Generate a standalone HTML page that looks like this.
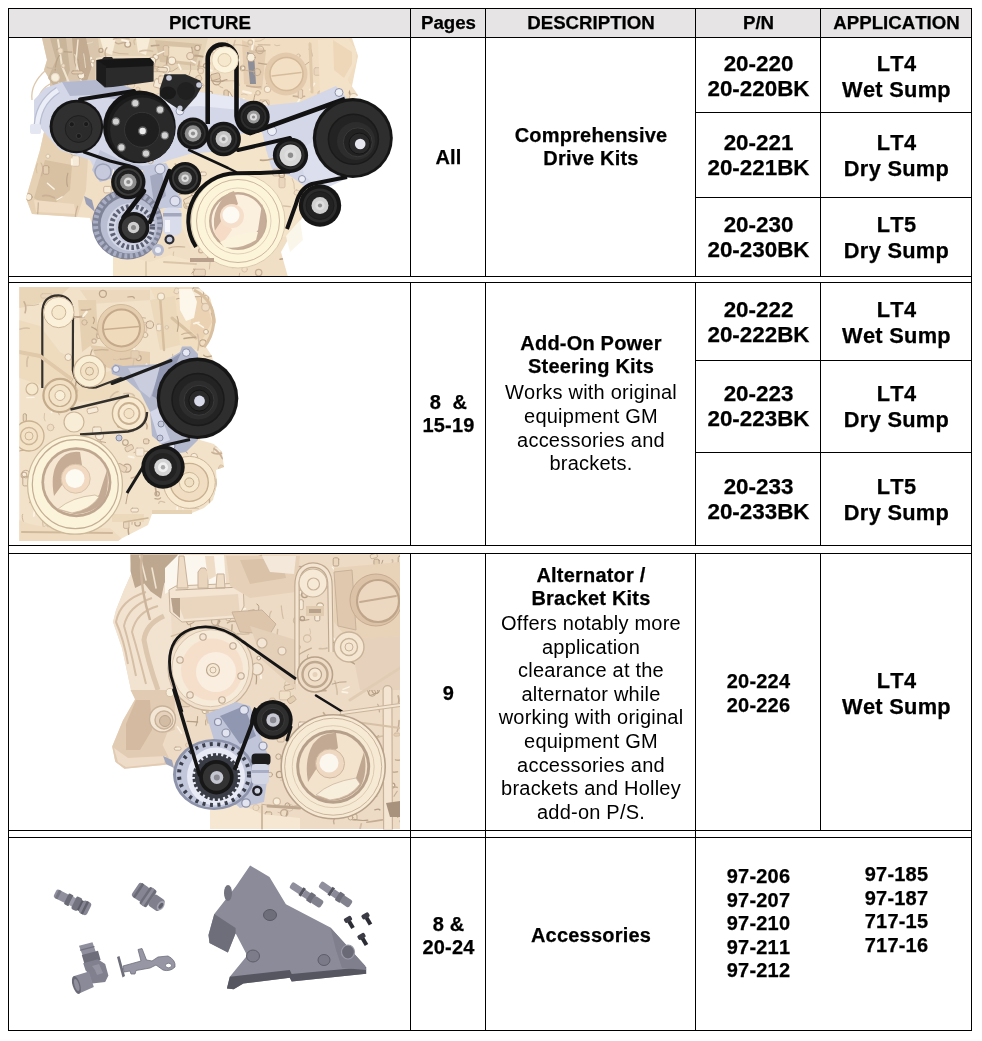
<!DOCTYPE html>
<html><head><meta charset="utf-8">
<style>
html,body{margin:0;padding:0;background:#fff;}
body{font-kerning:none;width:982px;height:1041px;position:relative;overflow:hidden;font-family:"Liberation Sans",sans-serif;color:#000;}
.l{position:absolute;background:#000;}
.h{height:1px;left:8px;width:964px;}
.v{width:1px;}
.hd{position:absolute;top:9px;height:28px;background:#e6e4e5;}
.t{position:absolute;text-align:center;white-space:nowrap;will-change:transform;}
.th,.b2,.pn,.ap{-webkit-text-stroke:0.25px #000;}
.th{font-weight:bold;font-size:18.67px;line-height:22px;top:12px;}
.b2{font-weight:bold;font-size:20px;line-height:23px;letter-spacing:0.2px;}
.pn{font-weight:bold;font-size:22.4px;line-height:25px;}
.ap{font-weight:bold;font-size:21.8px;line-height:25.8px;letter-spacing:0.3px;}
.ds{font-size:20px;line-height:23.6px;letter-spacing:0.22px;}
svg{position:absolute;left:0;top:0;}
</style></head><body>
<!-- header bg -->
<div class="hd" style="left:9px;width:962px"></div>
<!-- images -->
<svg id="art" width="982" height="1041" viewBox="0 0 982 1041">
<defs>
<clipPath id="c1"><rect x="9" y="38" width="401" height="238"/></clipPath>
<clipPath id="c2"><rect x="19.3" y="286.8" width="390" height="254.6"/></clipPath>
<clipPath id="c3"><rect x="9" y="554" width="391" height="275.5"/></clipPath>
<clipPath id="s1"><polygon points="42,38 47,60 44,70 50,80 50,96 40,112 44,132 40,150 26,198 32,214 77,217 90,218 98,242 113,252 113,277 288,277 281,252 290,236 302,218 320,190 345,178 352,100 358,95 347.5,80 356,62 356,50 348,38"/></clipPath>
<clipPath id="s2"><polygon points="19,287 198,287 210,298 216,321 206,347 212,356 214,366 200,380 200,440 214,444 222,452 224,467 216,470 217,484 213,500 204,508 192,513 152,514 148,525 121.5,538.6 118,541 19,541"/></clipPath>
<clipPath id="s3"><polygon points="130,554 400,554 400,829 210,829 210,810 196,806 172,766 165.7,764.8 124.4,768.7 115.3,761.8 112.2,746.5 122.9,720.5 135.1,699.2 131,690 122,648 113,622 116,610 124,590 132,572"/></clipPath>
</defs>
<g clip-path="url(#c1)">
<polygon points="42,38 47,60 44,70 50,80 50,96 40,112 44,132 40,150 26,198 32,214 77,217 90,218 98,242 113,252 113,277 288,277 281,252 290,236 302,218 320,190 345,178 352,100 358,95 347.5,80 356,62 356,50 348,38" fill="#f0dfc5"/>
<polygon points="42,38 47,60 44,70 50,80 50,98 60,100 95,98 96,58 120,52 135,38" fill="#d9c6ac"/>
<path d="M46,70 Q30,84 32,100 M50,84 Q36,92 38,108 M52,92 Q42,98 44,112" fill="none" stroke="#dcc8ac" stroke-width="1.3"/>
<polygon points="50,38 56,60 48,78 60,95 70,70 66,38" fill="#c9b59a"/>
<polygon points="72,38 74,62 84,90 92,66 86,38" fill="#c2ab90"/>
<polyline points="58,40 62,66 72,90" fill="none" stroke="#f1e4d0" stroke-width="2" stroke-linecap="round" stroke-linejoin="round"/>
<polyline points="78,40 76,62 82,84" fill="none" stroke="#f3e6d4" stroke-width="1.5" stroke-linecap="round" stroke-linejoin="round"/>
<polygon points="98,38 100,56 150,56 160,70 200,70 208,38" fill="#e6d4b8"/>
<polygon points="100,38 104,52 112,55 116,38" fill="#f7ecd8"/>
<polygon points="136,38 138,52 146,55 150,38" fill="#f7ecd8"/>
<polygon points="155,40 160,62 195,66 202,44" fill="#d8c2a6"/>
<polygon points="165,46 170,60 190,62 194,48" fill="#efe0c6"/>
<polygon points="44,132 40,150 26,198 32,214 77,217 86,190 88,158 70,150 56,140" fill="#e6d1b4"/>
<polygon points="45,160 34,198 50,208 70,190 72,165" fill="#d8c0a2"/>
<polygon points="34,200 36,212 76,214 74,204" fill="#efdcc2"/>
<polygon points="240,38 238,100 345,100 352,86 358,56 352,38" fill="#f0ddc2"/>
<polygon points="242,40 244,84 262,90 266,50" fill="#e4cdb0"/>
<polygon points="247,52 250,84 256,84 254,54" fill="#8e8e98"/>
<g clip-path="url(#s1)" fill="none" stroke-linecap="round" stroke-linejoin="round">
<path d="M213.6,74.9 l-6,3" stroke="#fbf3e4" stroke-width="1.4"/>
<path d="M255.6,50.3 Q260,51.9 265,50.7" stroke="#c9b096" stroke-width="1.5"/>
<circle cx="258" cy="92.9" r="2.3" stroke="#c9b096" stroke-width="0.9" fill="none"/>
<path d="M249.6,50.9 Q256.7,53.8 257.7,50.7" stroke="#d6c0a6" stroke-width="1.6"/>
<circle cx="155.7" cy="57.1" r="2.8" stroke="#c9b096" stroke-width="1.2" fill="#f8eedc"/>
<path d="M113.4,39.1 Q120.7,36.5 129.2,38.9" stroke="#c9b096" stroke-width="1.4"/>
<circle cx="298.4" cy="55.8" r="1.8" stroke="#d6c0a6" stroke-width="1" fill="none"/>
<circle cx="131" cy="84.7" r="3.7" stroke="#d6c0a6" stroke-width="0.9" fill="#eedcc4"/>
<path d="M145,71.6 l2.3,6.1" stroke="#fbf3e4" stroke-width="1.6"/>
<rect x="353.4" y="38" width="6.4" height="8.3" rx="1.5" stroke="#bca48a" stroke-width="0.9" fill="#f6ead8" transform="rotate(0 353.4 38)"/>
<path d="M106.9,47.7 Q103.8,50.5 105.7,56.8" stroke="#c9b096" stroke-width="1.4"/>
<path d="M100,62.3 Q98.9,66.3 99.1,68.8" stroke="#c9b096" stroke-width="1.1"/>
<rect x="155.4" y="78.3" width="9.9" height="8.6" rx="1.5" stroke="#c9b096" stroke-width="0.9" fill="#f6ead8" transform="rotate(15 155.4 78.3)"/>
<path d="M325.4,77.8 Q329.9,78.3 331.9,81.7" stroke="#c9b096" stroke-width="1.6"/>
<circle cx="251.1" cy="57.4" r="4.1" stroke="#bca48a" stroke-width="0.9" fill="#f8eedc"/>
<path d="M241.4,94.3 Q243.8,93.1 247.2,94.9" stroke="#d6c0a6" stroke-width="0.8"/>
<path d="M169.3,73 l-5.8,2.1" stroke="#fbf3e4" stroke-width="2.2"/>
<path d="M266.8,83.6 Q270.1,80.8 275.7,83.5" stroke="#c9b096" stroke-width="1.4"/>
<path d="M115.5,42.4 Q117.2,45 124.5,42.3" stroke="#c9b096" stroke-width="1.5"/>
<path d="M129.7,101.6 Q136.2,104.5 139.2,103.1" stroke="#c9b096" stroke-width="1.4"/>
<path d="M258.5,63.2 Q268.7,65.1 274.4,64.2" stroke="#bca48a" stroke-width="1.2"/>
<circle cx="210.5" cy="93.3" r="1.9" stroke="#bca48a" stroke-width="1.1" fill="#f8eedc"/>
<circle cx="101.8" cy="101.2" r="3.4" stroke="#bca48a" stroke-width="1" fill="none"/>
<path d="M191.7,47.5 Q193.7,51.3 191,57.3" stroke="#bca48a" stroke-width="1.5"/>
<rect x="147.6" y="66.4" width="11" height="5.3" rx="1.5" stroke="#c9b096" stroke-width="0.9" fill="#e4ceb2" transform="rotate(0 147.6 66.4)"/>
<rect x="225.1" y="93.2" width="4.5" height="8.9" rx="1.5" stroke="#bca48a" stroke-width="0.9" fill="#f6ead8" transform="rotate(-31 225.1 93.2)"/>
<path d="M167.5,52.1 Q167.6,58.2 166.3,66.3" stroke="#bca48a" stroke-width="1.6"/>
<path d="M168.3,78.1 Q168.8,83.1 167.6,89.3" stroke="#d6c0a6" stroke-width="1"/>
<rect x="296" y="55.6" width="11.9" height="3.7" rx="1.5" stroke="#c9b096" stroke-width="0.9" fill="#ead6bc" transform="rotate(90 296 55.6)"/>
<circle cx="345.2" cy="83.2" r="2.4" stroke="#d6c0a6" stroke-width="1.2" fill="#f8eedc"/>
<path d="M235.1,40.4 Q232,50.4 233.1,56.2" stroke="#d6c0a6" stroke-width="1.5"/>
<rect x="154.2" y="65.1" width="5" height="5.7" rx="1.5" stroke="#d6c0a6" stroke-width="0.9" fill="#ead6bc" transform="rotate(90 154.2 65.1)"/>
<circle cx="216.6" cy="81" r="3.9" stroke="#bca48a" stroke-width="1.2" fill="#eedcc4"/>
<path d="M128.1,54 Q119.1,54.3 113,52" stroke="#c9b096" stroke-width="0.8"/>
<path d="M227.2,40.5 Q228.8,43.7 225.9,47.7" stroke="#d6c0a6" stroke-width="0.8"/>
<path d="M234.6,83.3 l-0.3,4.9" stroke="#fbf3e4" stroke-width="1.9"/>
<path d="M314.4,83.5 l-4.2,6.2" stroke="#fbf3e4" stroke-width="2"/>
<rect x="210.2" y="74.9" width="9.1" height="6.1" rx="1.5" stroke="#bca48a" stroke-width="0.9" fill="#e4ceb2" transform="rotate(-15.1 210.2 74.9)"/>
<path d="M344.2,95.4 Q337.4,98.1 334.1,100.4" stroke="#d6c0a6" stroke-width="1.3"/>
<path d="M253.4,39.8 l-1.3,9.4" stroke="#fbf3e4" stroke-width="2.2"/>
<circle cx="127.7" cy="44.2" r="2.9" stroke="#bca48a" stroke-width="1.3" fill="#f8eedc"/>
<circle cx="166" cy="69.2" r="4" stroke="#d6c0a6" stroke-width="1.3" fill="#f8eedc"/>
<path d="M232.5,45.2 Q237.6,43.8 248.2,46.5" stroke="#c9b096" stroke-width="0.8"/>
<path d="M169.9,85.8 Q173.6,84.8 180.3,87.6" stroke="#d6c0a6" stroke-width="1.3"/>
<path d="M209.6,62.8 Q209,68.8 206.7,74.4" stroke="#bca48a" stroke-width="1.7"/>
<path d="M255,94.5 Q253.2,101.3 253.6,102.9" stroke="#bca48a" stroke-width="1"/>
<circle cx="355.6" cy="96.6" r="2.1" stroke="#c9b096" stroke-width="0.8" fill="#f8eedc"/>
<path d="M121.2,92.9 Q118.4,100.2 120.5,106.7" stroke="#bca48a" stroke-width="1.2"/>
<path d="M309.5,61.8 Q305.2,65.4 297.4,69.3" stroke="#bca48a" stroke-width="0.8"/>
<circle cx="331.3" cy="69.8" r="2.3" stroke="#c9b096" stroke-width="1.2" fill="#f8eedc"/>
<circle cx="337" cy="44.3" r="2.9" stroke="#bca48a" stroke-width="1.2" fill="#f8eedc"/>
<path d="M197.6,66.1 Q198.6,65.7 203.1,66.5" stroke="#c9b096" stroke-width="1.2"/>
<path d="M192.3,98.8 Q197.3,100.9 198.2,98.4" stroke="#c9b096" stroke-width="1.7"/>
<circle cx="340.3" cy="75.6" r="4.2" stroke="#bca48a" stroke-width="1.2" fill="#f8eedc"/>
<rect x="168.7" y="45.7" width="10.5" height="5.4" rx="1.5" stroke="#c9b096" stroke-width="0.9" fill="#e4ceb2" transform="rotate(90 168.7 45.7)"/>
<circle cx="201.5" cy="85.7" r="2.5" stroke="#d6c0a6" stroke-width="0.9" fill="#f8eedc"/>
<circle cx="353.6" cy="97.6" r="4.1" stroke="#d6c0a6" stroke-width="1.1" fill="#f8eedc"/>
<circle cx="152.2" cy="64.8" r="2.7" stroke="#c9b096" stroke-width="1.3" fill="#eedcc4"/>
<path d="M151.4,45.9 Q154.9,45.6 159,45.2" stroke="#bca48a" stroke-width="1.6"/>
<path d="M264.5,38.7 Q260,42.1 255.3,41.4" stroke="#d6c0a6" stroke-width="0.9"/>
<path d="M211.5,80.5 Q218.5,83 226.8,79.8" stroke="#bca48a" stroke-width="1.7"/>
<path d="M236.9,77.4 Q238.3,81.3 239.3,85.5" stroke="#d6c0a6" stroke-width="1.1"/>
<rect x="337.7" y="81.8" width="4.1" height="4.5" rx="1.5" stroke="#c9b096" stroke-width="0.9" fill="#ead6bc" transform="rotate(10.6 337.7 81.8)"/>
<circle cx="329.4" cy="87.4" r="4.1" stroke="#bca48a" stroke-width="0.8" fill="none"/>
<path d="M207.7,69.5 l4.1,1.3" stroke="#fbf3e4" stroke-width="2"/>
<path d="M332.5,47.5 l7.1,2.7" stroke="#fbf3e4" stroke-width="1.8"/>
<circle cx="214.5" cy="51.4" r="2.2" stroke="#bca48a" stroke-width="1" fill="none"/>
<path d="M164.2,76.4 Q169,75.3 177,78.9" stroke="#bca48a" stroke-width="1.7"/>
<path d="M189.4,55.9 Q194.2,54.8 202.7,56.7" stroke="#bca48a" stroke-width="1.8"/>
<circle cx="334.1" cy="96" r="1.8" stroke="#c9b096" stroke-width="0.9" fill="none"/>
<path d="M258.1,44.8 Q263.3,44.8 270,45" stroke="#c9b096" stroke-width="1"/>
<rect x="185.4" y="87.2" width="10.4" height="5.7" rx="1.5" stroke="#c9b096" stroke-width="0.9" fill="#f6ead8" transform="rotate(90 185.4 87.2)"/>
<circle cx="197.4" cy="47.9" r="2.6" stroke="#bca48a" stroke-width="1.1" fill="#eedcc4"/>
<path d="M310.8,50.1 Q311.7,53 311.8,56" stroke="#bca48a" stroke-width="1.5"/>
<circle cx="173.7" cy="89.2" r="4" stroke="#c9b096" stroke-width="1.1" fill="#eedcc4"/>
<path d="M175,85.8 Q180.7,83.2 188,85.1" stroke="#d6c0a6" stroke-width="1.5"/>
<path d="M244,98.6 l-5.4,3.8" stroke="#fbf3e4" stroke-width="1.5"/>
<path d="M178.6,64.4 l2.3,5" stroke="#fbf3e4" stroke-width="1.6"/>
<path d="M190.5,64.1 Q191.8,69.9 189.1,75" stroke="#c9b096" stroke-width="1"/>
<path d="M293.3,96.1 Q301.7,97.2 304.6,96.3" stroke="#c9b096" stroke-width="1.6"/>
<rect x="112.7" y="74.1" width="6.7" height="4.6" rx="1.5" stroke="#c9b096" stroke-width="0.9" fill="#ead6bc" transform="rotate(0 112.7 74.1)"/>
<circle cx="102.7" cy="81.1" r="2.8" stroke="#bca48a" stroke-width="1.2" fill="#f8eedc"/>
<path d="M183.8,101.9 Q190.8,104.5 198.8,103.2" stroke="#d6c0a6" stroke-width="1.5"/>
<rect x="317.9" y="91.2" width="11.7" height="6.8" rx="1.5" stroke="#d6c0a6" stroke-width="0.9" fill="#e4ceb2" transform="rotate(0 317.9 91.2)"/>
<circle cx="205.6" cy="65.8" r="2.2" stroke="#bca48a" stroke-width="1.1" fill="#eedcc4"/>
<path d="M139.6,51.5 Q144.9,49.3 152.6,51.3" stroke="#d6c0a6" stroke-width="1.7"/>
<circle cx="333.2" cy="87.7" r="4" stroke="#d6c0a6" stroke-width="0.8" fill="none"/>
<path d="M147.4,61.7 Q146.6,64.9 141.1,69.3" stroke="#bca48a" stroke-width="1.7"/>
<path d="M339.7,79.4 l4.7,5" stroke="#fbf3e4" stroke-width="2.1"/>
<path d="M333.7,60.6 Q335.2,62.2 341.1,60.3" stroke="#c9b096" stroke-width="1.8"/>
<rect x="302.6" y="89.1" width="9.3" height="4.4" rx="1.5" stroke="#c9b096" stroke-width="0.9" fill="#ead6bc" transform="rotate(90 302.6 89.1)"/>
<path d="M213,54.3 Q216,59.5 215.2,69.1" stroke="#c9b096" stroke-width="1.5"/>
<circle cx="257.1" cy="72.1" r="3.6" stroke="#bca48a" stroke-width="0.8" fill="none"/>
<path d="M309.7,43.4 Q311,46.6 309.3,49.3" stroke="#bca48a" stroke-width="1.3"/>
<circle cx="100.9" cy="50.4" r="2" stroke="#bca48a" stroke-width="1.2" fill="none"/>
<path d="M105.7,65.3 Q106.2,70.7 107.2,73.5" stroke="#d6c0a6" stroke-width="1.2"/>
<path d="M274.6,45 Q276.5,46.4 279.8,45.3" stroke="#d6c0a6" stroke-width="1"/>
<circle cx="242.7" cy="68.2" r="2.3" stroke="#bca48a" stroke-width="1.1" fill="#f8eedc"/>
<rect x="259.2" y="99.9" width="10" height="6.3" rx="1.5" stroke="#d6c0a6" stroke-width="0.9" fill="#ead6bc" transform="rotate(0 259.2 99.9)"/>
<path d="M193.9,45.2 Q191.6,50.6 194.1,54.4" stroke="#d6c0a6" stroke-width="0.9"/>
<circle cx="259.9" cy="49.8" r="3.8" stroke="#c9b096" stroke-width="1.1" fill="none"/>
<path d="M122.1,40.1 l6.3,1.5" stroke="#fbf3e4" stroke-width="2.1"/>
<path d="M207,71.8 Q207.8,80.7 207.1,86.9" stroke="#c9b096" stroke-width="1.4"/>
<path d="M178.6,90.1 Q179.8,92.1 179.2,98.8" stroke="#bca48a" stroke-width="1.2"/>
<rect x="228.4" y="90" width="9.7" height="4.5" rx="1.5" stroke="#bca48a" stroke-width="0.9" fill="#e4ceb2" transform="rotate(90 228.4 90)"/>
<path d="M255.1,71.9 Q251.4,71.2 242.5,69.8" stroke="#c9b096" stroke-width="0.8"/>
<circle cx="267.5" cy="89.3" r="3.2" stroke="#d6c0a6" stroke-width="1.1" fill="#f8eedc"/>
<path d="M119.9,95.6 Q125.7,92.4 131.1,94.4" stroke="#c9b096" stroke-width="1.7"/>
<rect x="139.8" y="87.2" width="8.8" height="3.7" rx="1.5" stroke="#d6c0a6" stroke-width="0.9" fill="#ead6bc" transform="rotate(90 139.8 87.2)"/>
<rect x="158.6" y="75.9" width="8.8" height="7.9" rx="1.5" stroke="#c9b096" stroke-width="0.9" fill="#f1e0c8" transform="rotate(0 158.6 75.9)"/>
<path d="M299.5,99.4 l-3,5" stroke="#fbf3e4" stroke-width="1.9"/>
<rect x="195.2" y="77.1" width="5.3" height="5.5" rx="1.5" stroke="#c9b096" stroke-width="0.9" fill="#ead6bc" transform="rotate(-28.6 195.2 77.1)"/>
<path d="M126.8,64.8 Q129.9,68.5 129.7,69.5" stroke="#c9b096" stroke-width="1.6"/>
<circle cx="200.8" cy="70.8" r="2.8" stroke="#d6c0a6" stroke-width="1.1" fill="#eedcc4"/>
<path d="M242.8,64.9 Q240.1,70.6 242,71.1" stroke="#d6c0a6" stroke-width="1.1"/>
<circle cx="231.4" cy="65.7" r="2.5" stroke="#c9b096" stroke-width="1.1" fill="#f8eedc"/>
<circle cx="250.3" cy="42.6" r="2.4" stroke="#d6c0a6" stroke-width="1.2" fill="none"/>
<path d="M219.7,45 l1.9,5.5" stroke="#fbf3e4" stroke-width="1.4"/>
<path d="M113.8,98.1 l-0.9,6.1" stroke="#fbf3e4" stroke-width="1.8"/>
<path d="M138.7,80.9 Q144.2,81.3 145.1,80.9" stroke="#c9b096" stroke-width="1.3"/>
<circle cx="173" cy="86.1" r="2" stroke="#c9b096" stroke-width="1.2" fill="#eedcc4"/>
<path d="M199.3,61.5 Q198.6,68.3 197.9,69.8" stroke="#c9b096" stroke-width="1.8"/>
<path d="M218.9,51.6 Q228.5,48.2 233.3,50.5" stroke="#bca48a" stroke-width="1.4"/>
<path d="M234.6,53.6 l4.5,6.5" stroke="#fbf3e4" stroke-width="2"/>
<path d="M346,56.1 Q348.2,57.2 346.2,62.9" stroke="#c9b096" stroke-width="1.5"/>
<path d="M165.9,85.5 Q162.9,91 164.6,96.2" stroke="#d6c0a6" stroke-width="1.8"/>
<path d="M328.8,49.9 Q334.2,47.3 334.7,49.8" stroke="#c9b096" stroke-width="1.7"/>
<path d="M97.8,76.7 Q103.8,73.7 113.5,74.5" stroke="#d6c0a6" stroke-width="1.5"/>
<circle cx="103.5" cy="90.2" r="3.3" stroke="#c9b096" stroke-width="1.3" fill="#eedcc4"/>
<path d="M196,99.3 Q193.6,103.2 196.8,109.6" stroke="#c9b096" stroke-width="1.6"/>
<rect x="261" y="102.9" width="5.4" height="7.7" rx="1.5" stroke="#bca48a" stroke-width="0.9" fill="#f6ead8" transform="rotate(-31 261 102.9)"/>
<rect x="157.2" y="67.1" width="10.3" height="4.4" rx="1.5" stroke="#bca48a" stroke-width="0.9" fill="#f1e0c8" transform="rotate(3.5 157.2 67.1)"/>
<path d="M163.9,51.4 l-6.9,2.9" stroke="#fbf3e4" stroke-width="1.4"/>
<path d="M135.5,39.2 Q132.8,39.9 134.7,44.5" stroke="#d6c0a6" stroke-width="1.4"/>
<path d="M246.7,85.7 Q255.1,87.9 260.6,86.8" stroke="#c9b096" stroke-width="1.6"/>
<path d="M225.6,80.9 Q232.3,80.6 237.8,80.9" stroke="#d6c0a6" stroke-width="1.1"/>
<path d="M217.4,84.1 Q219.8,87.5 222.8,87.9" stroke="#c9b096" stroke-width="0.8"/>
<circle cx="158.6" cy="96.7" r="3.1" stroke="#d6c0a6" stroke-width="1" fill="none"/>
<path d="M348.6,82.9 Q347.6,88.1 349.8,93.9" stroke="#bca48a" stroke-width="1.7"/>
<path d="M190.6,60.2 l4.6,2.6" stroke="#fbf3e4" stroke-width="1.8"/>
<path d="M354.6,86.7 Q361.4,85.9 364,86.5" stroke="#bca48a" stroke-width="1.6"/>
<circle cx="152" cy="60.9" r="3.7" stroke="#bca48a" stroke-width="1" fill="#f8eedc"/>
<path d="M151.8,68.9 Q154.6,66.9 158.9,70" stroke="#d6c0a6" stroke-width="1.5"/>
<circle cx="190.3" cy="56.1" r="3.6" stroke="#c9b096" stroke-width="1.1" fill="#eedcc4"/>
<path d="M336.1,85.2 Q338.7,86.7 337.3,92.8" stroke="#d6c0a6" stroke-width="1.8"/>
<rect x="314.1" y="67.7" width="6.6" height="7.6" rx="1.5" stroke="#d6c0a6" stroke-width="0.9" fill="#ead6bc" transform="rotate(0 314.1 67.7)"/>
<path d="M223,50.4 Q224.3,55.6 223.4,60.6" stroke="#c9b096" stroke-width="1.3"/>
<path d="M177.6,67.8 Q172.6,72 169,71.8" stroke="#c9b096" stroke-width="1"/>
<circle cx="171.9" cy="60.8" r="3.8" stroke="#c9b096" stroke-width="1.2" fill="#f8eedc"/>
<path d="M243.1,91.4 l7.8,1.7" stroke="#fbf3e4" stroke-width="2.1"/>
</g>
<circle cx="286" cy="74" r="21.5" fill="#e3caac"/>
<circle cx="286.5" cy="74" r="16.5" fill="#f3dfc4" stroke="#d4b999" stroke-width="1.5"/>
<polyline points="272,76 301,72.5" fill="none" stroke="#d6bc9c" stroke-width="1.5" stroke-linecap="round" stroke-linejoin="round"/>
<polygon points="318,40 320,96 345,98 352,86 347.5,80 356,62 356,50 348,38" fill="#f4e2c8"/>
<polygon points="333,40 352,52 352,64 344,78 334,70" fill="#eed7b8"/>
<polyline points="310,44 312,92" fill="none" stroke="#e0c8aa" stroke-width="3" stroke-linecap="round" stroke-linejoin="round"/>
<g clip-path="url(#s1)" fill="none" stroke-linecap="round" stroke-linejoin="round">
<path d="M63.2,85.3 Q63,93.6 63.3,97.4" stroke="#b9a288" stroke-width="1"/>
<path d="M30.1,82.9 l-4.8,1.4" stroke="#fbf3e4" stroke-width="1.3"/>
<path d="M87.3,43.4 Q92.6,42.9 92.9,42.2" stroke="#e9dcc8" stroke-width="0.9"/>
<circle cx="99.1" cy="106.2" r="4.1" stroke="#e9dcc8" stroke-width="1.1" fill="#eedcc4"/>
<rect x="69.1" y="108.3" width="5.4" height="7.9" rx="1.5" stroke="#cdb89e" stroke-width="0.9" fill="#f1e0c8" transform="rotate(8.6 69.1 108.3)"/>
<circle cx="63.4" cy="65.7" r="2" stroke="#cdb89e" stroke-width="0.9" fill="#eedcc4"/>
<rect x="48.3" y="105.8" width="9.4" height="3.7" rx="1.5" stroke="#e9dcc8" stroke-width="0.9" fill="#f6ead8" transform="rotate(90 48.3 105.8)"/>
<path d="M65.8,96.3 Q67.4,96.2 66.8,101.5" stroke="#b9a288" stroke-width="1"/>
<path d="M72.5,92.2 Q78.4,93.4 83,91.9" stroke="#b9a288" stroke-width="1.3"/>
<path d="M55.8,62.5 Q56.4,70.6 57.5,78.2" stroke="#cdb89e" stroke-width="1"/>
<path d="M83.7,53.8 Q84.6,59.1 85.5,67.5" stroke="#e9dcc8" stroke-width="0.9"/>
<circle cx="55.3" cy="77.4" r="3.9" stroke="#e9dcc8" stroke-width="1.1" fill="#f8eedc"/>
<path d="M74.8,54.5 Q77.9,60.2 76.3,69.9" stroke="#e9dcc8" stroke-width="1.1"/>
<path d="M91.1,58 l1.3,7.7" stroke="#fbf3e4" stroke-width="2"/>
<circle cx="81.4" cy="75.5" r="3.5" stroke="#b9a288" stroke-width="0.9" fill="#f8eedc"/>
<path d="M59.4,55.4 Q55.9,60 55.2,70.1" stroke="#b9a288" stroke-width="1.2"/>
<circle cx="36.5" cy="67.1" r="2.6" stroke="#cdb89e" stroke-width="1" fill="#eedcc4"/>
<path d="M57,49.6 Q64.6,52.6 71.8,52.1" stroke="#b9a288" stroke-width="1.2"/>
<path d="M36.9,63.4 Q36.9,67.8 36.6,69.8" stroke="#cdb89e" stroke-width="1.2"/>
<path d="M47.2,67.3 Q49.5,68.8 55.6,68.1" stroke="#cdb89e" stroke-width="1.4"/>
<circle cx="60.5" cy="50.7" r="2.9" stroke="#cdb89e" stroke-width="0.9" fill="#eedcc4"/>
<rect x="71.6" y="70.9" width="11.6" height="3" rx="1.5" stroke="#b9a288" stroke-width="0.9" fill="#e4ceb2" transform="rotate(0 71.6 70.9)"/>
<path d="M78.2,59.3 Q79.5,66.4 79.6,69.3" stroke="#b9a288" stroke-width="1"/>
<rect x="62.2" y="99.5" width="7.3" height="7.2" rx="1.5" stroke="#b9a288" stroke-width="0.9" fill="#f1e0c8" transform="rotate(1.7 62.2 99.5)"/>
<path d="M76.4,108 Q80.8,106.5 86.9,107.2" stroke="#cdb89e" stroke-width="0.9"/>
<path d="M45.8,77.2 Q47.1,84.1 47.2,92.4" stroke="#b9a288" stroke-width="1.7"/>
<circle cx="92.8" cy="61.1" r="1.9" stroke="#cdb89e" stroke-width="1.1" fill="#f8eedc"/>
<path d="M58.9,82.5 Q60.9,85.2 59.3,91.9" stroke="#e9dcc8" stroke-width="1"/>
<path d="M47.8,107.9 Q47.9,117.4 44.8,122.7" stroke="#b9a288" stroke-width="1.1"/>
<rect x="91.1" y="91.9" width="6.5" height="3.1" rx="1.5" stroke="#cdb89e" stroke-width="0.9" fill="#f6ead8" transform="rotate(0 91.1 91.9)"/>
</g>
<g clip-path="url(#s1)" fill="none" stroke-linecap="round" stroke-linejoin="round">
<path d="M42.6,195.9 Q46.7,194.3 54.5,197.8" stroke="#c9b096" stroke-width="1.6"/>
<circle cx="73.7" cy="152" r="3.3" stroke="#bca48a" stroke-width="0.8" fill="#f8eedc"/>
<rect x="79.4" y="155.7" width="10.6" height="7.5" rx="1.5" stroke="#d6c0a6" stroke-width="0.9" fill="#f6ead8" transform="rotate(90 79.4 155.7)"/>
<rect x="48.8" y="165.7" width="8.5" height="5.6" rx="1.5" stroke="#bca48a" stroke-width="0.9" fill="#e4ceb2" transform="rotate(90 48.8 165.7)"/>
<path d="M67.9,173.2 Q65.6,180.9 67.6,186.4" stroke="#bca48a" stroke-width="1.2"/>
<path d="M37.3,163.6 Q34.9,168.2 36.9,172.9" stroke="#d6c0a6" stroke-width="1"/>
<path d="M41.1,163 Q44,166.7 41.7,175.9" stroke="#c9b096" stroke-width="0.9"/>
<path d="M77.6,206.2 Q74.7,215.1 75.4,219.8" stroke="#c9b096" stroke-width="1.2"/>
<path d="M71.9,159.2 l0.1,5.4" stroke="#fbf3e4" stroke-width="2.1"/>
<circle cx="28.7" cy="197" r="3.5" stroke="#bca48a" stroke-width="1" fill="#f8eedc"/>
<path d="M38.3,202.8 Q38.3,205.5 37.7,213.9" stroke="#c9b096" stroke-width="1.2"/>
<circle cx="48" cy="156.2" r="2.1" stroke="#d6c0a6" stroke-width="1" fill="#f8eedc"/>
<path d="M62.2,196.8 l-5.4,3.1" stroke="#fbf3e4" stroke-width="1.2"/>
<path d="M47.4,183.3 l6.8,5.8" stroke="#fbf3e4" stroke-width="1.4"/>
</g>
<polygon points="44,132 34,120 34,100 45,88 62,82 95,80 120,84 150,96 200,92 240,98 262,106 300,102 336,86 345,96 352,110 345,178 322,190 304,186 290,176 272,170 266,150 262,132 240,134 212,152 190,154 170,160 150,168 120,172 100,180 90,160 60,150" fill="#d3d7e8"/>
<polygon points="62,82 95,80 120,84 150,96 120,100 90,95 70,96" fill="#b4b9cf"/>
<polygon points="150,96 200,92 240,98 240,110 200,106 160,108" fill="#e6e8f3"/>
<polygon points="100,150 120,160 150,168 120,176 100,182 92,170" fill="#c0c5da"/>
<path d="M37,132 Q36,104 58,90" fill="none" stroke="#b9bdd2" stroke-width="7"/>
<path d="M37,132 Q36,104 58,90" fill="none" stroke="#eceef7" stroke-width="4.5"/>
<rect x="30" y="124" width="11" height="10" rx="2" fill="#e4e6f1"/>
<circle cx="103" cy="172" r="8" fill="#c6cadc" stroke="#9da2b9" stroke-width="1.5"/>
<polygon points="300,150 345,120 348,178 322,190 304,176" fill="#dcdfee"/>
<circle cx="302" cy="179" r="3.5" fill="#eceef6" stroke="#8e93aa" stroke-width="1"/>
<circle cx="272" cy="131" r="4.5" fill="#eceef6" stroke="#9aa0b8" stroke-width="1"/>
<circle cx="339" cy="92.5" r="4" fill="#eceef6" stroke="#8e93aa" stroke-width="1"/>
<circle cx="180" cy="111" r="4" fill="#eceef6" stroke="#9aa0b8" stroke-width="1"/>
<polygon points="150,168 170,160 190,154 212,152 240,134 262,132 266,150 272,170 290,176 304,186 310,200 290,236 192,250 170,200" fill="#f4e4ca"/>
<g clip-path="url(#s1)" fill="none" stroke-linecap="round" stroke-linejoin="round">
<path d="M113.5,242.2 Q113.5,244.9 114,248" stroke="#c9b096" stroke-width="1.7"/>
<path d="M176.6,266.3 Q177.1,270.3 177.3,278.3" stroke="#d6c0a6" stroke-width="1.5"/>
<circle cx="150.6" cy="161.2" r="2.6" stroke="#bca48a" stroke-width="0.8" fill="none"/>
<path d="M277.9,204.7 Q281.8,206.2 290.3,206.6" stroke="#d6c0a6" stroke-width="1.4"/>
<rect x="129.9" y="171.1" width="9.4" height="4.6" rx="1.5" stroke="#bca48a" stroke-width="0.9" fill="#f6ead8" transform="rotate(90 129.9 171.1)"/>
<rect x="200.1" y="172" width="6.2" height="3.7" rx="1.5" stroke="#c9b096" stroke-width="0.9" fill="#f6ead8" transform="rotate(0 200.1 172)"/>
<path d="M241,228.6 Q240.7,234.3 241.2,238.9" stroke="#bca48a" stroke-width="0.9"/>
<rect x="194.4" y="187.6" width="4.5" height="3.9" rx="1.5" stroke="#d6c0a6" stroke-width="0.9" fill="#e4ceb2" transform="rotate(0 194.4 187.6)"/>
<path d="M271.6,207.5 l-1.3,5.9" stroke="#fbf3e4" stroke-width="2.1"/>
<circle cx="148" cy="195.4" r="3.1" stroke="#bca48a" stroke-width="1.2" fill="none"/>
<path d="M175.3,164.1 Q178.2,168.7 175.2,177.9" stroke="#c9b096" stroke-width="1.8"/>
<path d="M260.5,160.2 Q265.7,160.8 272.9,158.7" stroke="#bca48a" stroke-width="1.7"/>
<rect x="96.9" y="267.8" width="8.1" height="8" rx="1.5" stroke="#c9b096" stroke-width="0.9" fill="#e4ceb2" transform="rotate(0 96.9 267.8)"/>
<rect x="301.2" y="223.9" width="7.9" height="8.7" rx="1.5" stroke="#d6c0a6" stroke-width="0.9" fill="#ead6bc" transform="rotate(-20.2 301.2 223.9)"/>
<path d="M193.2,199.7 Q195,199.7 199.7,200.2" stroke="#c9b096" stroke-width="1.3"/>
<path d="M173.7,251.9 Q172.2,256.9 174.9,259.2" stroke="#d6c0a6" stroke-width="0.9"/>
<path d="M237,186 Q229.4,188.1 227.2,191.3" stroke="#bca48a" stroke-width="1.1"/>
<rect x="193.4" y="269.2" width="12" height="6.8" rx="1.5" stroke="#c9b096" stroke-width="0.9" fill="#ead6bc" transform="rotate(0 193.4 269.2)"/>
<rect x="183.8" y="274.7" width="11.4" height="3.4" rx="1.5" stroke="#bca48a" stroke-width="0.9" fill="#e4ceb2" transform="rotate(-36.4 183.8 274.7)"/>
<rect x="285" y="177.5" width="10.3" height="6" rx="1.5" stroke="#d6c0a6" stroke-width="0.9" fill="#ead6bc" transform="rotate(90 285 177.5)"/>
<path d="M144.6,239.7 Q146.3,237.6 149.7,240.2" stroke="#c9b096" stroke-width="0.9"/>
<rect x="174.2" y="194.3" width="4.2" height="3.8" rx="1.5" stroke="#d6c0a6" stroke-width="0.9" fill="#e4ceb2" transform="rotate(37.4 174.2 194.3)"/>
<path d="M95.6,235.6 l-6,4.5" stroke="#fbf3e4" stroke-width="1.6"/>
<path d="M239.7,273.2 Q238.3,278.4 238.2,283.4" stroke="#c9b096" stroke-width="0.9"/>
<path d="M138.9,187.6 Q142.3,185.6 151.1,187.3" stroke="#c9b096" stroke-width="1.6"/>
<path d="M222.8,193.1 l-3.7,3.9" stroke="#fbf3e4" stroke-width="1.8"/>
<path d="M244.8,181.5 Q251.5,180.8 255,181.9" stroke="#bca48a" stroke-width="1.3"/>
<circle cx="272.3" cy="196.3" r="2.9" stroke="#bca48a" stroke-width="1.3" fill="#f8eedc"/>
<circle cx="194.6" cy="195.7" r="3.1" stroke="#c9b096" stroke-width="1.1" fill="#f8eedc"/>
<path d="M170.3,194.6 Q180,196.1 183.7,193" stroke="#bca48a" stroke-width="1"/>
<path d="M280.1,259.3 Q287.6,258 294.4,258.4" stroke="#bca48a" stroke-width="1.6"/>
<circle cx="309.8" cy="210.6" r="3.9" stroke="#d6c0a6" stroke-width="0.9" fill="#f8eedc"/>
<circle cx="133.7" cy="252.7" r="2.3" stroke="#bca48a" stroke-width="1" fill="#eedcc4"/>
<circle cx="187.2" cy="205.2" r="3.6" stroke="#bca48a" stroke-width="0.8" fill="#eedcc4"/>
<path d="M270.6,188.3 Q267.9,195.9 269.7,199.1" stroke="#c9b096" stroke-width="1.4"/>
<rect x="272.7" y="169.4" width="11" height="6.5" rx="1.5" stroke="#c9b096" stroke-width="0.9" fill="#f6ead8" transform="rotate(0 272.7 169.4)"/>
<path d="M119.4,225 Q122.3,228.2 121,235.4" stroke="#bca48a" stroke-width="1.3"/>
<path d="M247.9,171.6 Q251.5,172.4 258.7,172.7" stroke="#bca48a" stroke-width="1.2"/>
<circle cx="244.6" cy="269.3" r="2.8" stroke="#d6c0a6" stroke-width="0.9" fill="none"/>
<rect x="183.1" y="200.1" width="11" height="8.3" rx="1.5" stroke="#bca48a" stroke-width="0.9" fill="#f1e0c8" transform="rotate(-27.7 183.1 200.1)"/>
<path d="M156.2,188.6 Q158.9,185.9 166.8,187.5" stroke="#c9b096" stroke-width="1.2"/>
<circle cx="114.8" cy="186.8" r="3.4" stroke="#bca48a" stroke-width="1" fill="#f8eedc"/>
<path d="M213.1,185.7 l2.8,3.3" stroke="#fbf3e4" stroke-width="1.4"/>
<path d="M210.9,255.9 Q210.1,260.3 209.4,269" stroke="#d6c0a6" stroke-width="1"/>
<path d="M250.7,190.4 l-6.7,2" stroke="#fbf3e4" stroke-width="1.5"/>
<circle cx="117.3" cy="234.8" r="2.6" stroke="#bca48a" stroke-width="1" fill="#f8eedc"/>
<circle cx="209.1" cy="257.9" r="1.8" stroke="#bca48a" stroke-width="1" fill="none"/>
<path d="M125.5,182.1 Q125.6,186.7 124.9,187.1" stroke="#d6c0a6" stroke-width="0.9"/>
<circle cx="110.6" cy="230.5" r="3.6" stroke="#bca48a" stroke-width="1" fill="#f8eedc"/>
<path d="M247.1,213.2 Q244.4,219 247.5,222.2" stroke="#bca48a" stroke-width="1.1"/>
<rect x="198.7" y="244.9" width="9.3" height="4.4" rx="1.5" stroke="#d6c0a6" stroke-width="0.9" fill="#ead6bc" transform="rotate(-35.6 198.7 244.9)"/>
<circle cx="231" cy="248.8" r="3.9" stroke="#c9b096" stroke-width="0.9" fill="none"/>
<rect x="136.3" y="175" width="6.6" height="6" rx="1.5" stroke="#d6c0a6" stroke-width="0.9" fill="#f6ead8" transform="rotate(0 136.3 175)"/>
<path d="M113.5,170 l-1.6,8.4" stroke="#fbf3e4" stroke-width="1.3"/>
<path d="M101.3,199.1 Q97.5,206.6 99.5,209.9" stroke="#d6c0a6" stroke-width="0.8"/>
<path d="M110.8,210.2 Q112.3,210.9 119.3,208.8" stroke="#c9b096" stroke-width="1.6"/>
<path d="M259.4,197.7 Q260.7,206.8 259.9,212.4" stroke="#d6c0a6" stroke-width="1.3"/>
<path d="M262.5,218.3 Q264.9,220.4 271.2,219" stroke="#d6c0a6" stroke-width="1.3"/>
<path d="M159.6,268 l4.1,7.6" stroke="#fbf3e4" stroke-width="1.3"/>
<rect x="98.6" y="222.2" width="4.2" height="3.1" rx="1.5" stroke="#c9b096" stroke-width="0.9" fill="#ead6bc" transform="rotate(0 98.6 222.2)"/>
<path d="M257.5,230.8 Q259.5,234.2 257.8,237.1" stroke="#d6c0a6" stroke-width="1.2"/>
<rect x="277.4" y="195.1" width="6.8" height="3.4" rx="1.5" stroke="#bca48a" stroke-width="0.9" fill="#e4ceb2" transform="rotate(90 277.4 195.1)"/>
<path d="M309,225.4 l-2.9,3.1" stroke="#fbf3e4" stroke-width="1.8"/>
<circle cx="188" cy="205.7" r="2.6" stroke="#d6c0a6" stroke-width="1.3" fill="none"/>
<path d="M154.7,247.5 Q156.2,251.2 154.7,257.5" stroke="#c9b096" stroke-width="1.1"/>
<circle cx="154.6" cy="224.4" r="4.1" stroke="#bca48a" stroke-width="1.3" fill="#f8eedc"/>
<circle cx="146.3" cy="216.2" r="4.1" stroke="#d6c0a6" stroke-width="0.9" fill="#f8eedc"/>
<path d="M232.3,267.8 Q237,267.3 240.2,266.6" stroke="#d6c0a6" stroke-width="1"/>
<rect x="133.6" y="217.5" width="9.7" height="7.9" rx="1.5" stroke="#c9b096" stroke-width="0.9" fill="#f1e0c8" transform="rotate(-17.8 133.6 217.5)"/>
<path d="M158.8,171.6 l6.5,2.3" stroke="#fbf3e4" stroke-width="1.6"/>
<circle cx="127.5" cy="207.2" r="3.6" stroke="#bca48a" stroke-width="1.2" fill="#eedcc4"/>
<rect x="295.2" y="189.5" width="8.9" height="4.9" rx="1.5" stroke="#d6c0a6" stroke-width="0.9" fill="#f1e0c8" transform="rotate(19.4 295.2 189.5)"/>
<rect x="150.7" y="190.8" width="5.4" height="7.4" rx="1.5" stroke="#d6c0a6" stroke-width="0.9" fill="#f6ead8" transform="rotate(-3.7 150.7 190.8)"/>
<path d="M309.5,225.1 Q316.4,225.8 317.6,226.4" stroke="#c9b096" stroke-width="0.8"/>
<circle cx="258.7" cy="272.6" r="3.2" stroke="#c9b096" stroke-width="1.3" fill="none"/>
<circle cx="210.8" cy="216.7" r="3.5" stroke="#c9b096" stroke-width="0.9" fill="#f8eedc"/>
<circle cx="281.8" cy="174.7" r="2.8" stroke="#bca48a" stroke-width="1.1" fill="none"/>
<rect x="111.2" y="186.4" width="6.5" height="7.5" rx="1.5" stroke="#c9b096" stroke-width="0.9" fill="#f6ead8" transform="rotate(90 111.2 186.4)"/>
<path d="M148.2,190.9 Q147.8,195.7 147.3,198.6" stroke="#c9b096" stroke-width="1.3"/>
<rect x="98.3" y="211.4" width="4.5" height="3.1" rx="1.5" stroke="#d6c0a6" stroke-width="0.9" fill="#ead6bc" transform="rotate(13.1 98.3 211.4)"/>
<rect x="197.7" y="235.7" width="5.8" height="3.5" rx="1.5" stroke="#bca48a" stroke-width="0.9" fill="#f1e0c8" transform="rotate(0 197.7 235.7)"/>
<path d="M117.7,243 Q119.6,240.5 126.8,241" stroke="#d6c0a6" stroke-width="1.3"/>
<path d="M306.4,227.4 Q310.8,226.2 317.4,228.2" stroke="#c9b096" stroke-width="1.1"/>
<path d="M292.2,178.6 Q294.7,183.4 294.4,189.1" stroke="#d6c0a6" stroke-width="0.9"/>
<path d="M303.6,255 Q307.4,252.8 316.5,255.3" stroke="#bca48a" stroke-width="1.5"/>
<path d="M269.3,223.2 Q274.3,224.9 274.6,224.6" stroke="#d6c0a6" stroke-width="1.2"/>
<path d="M142.9,269.1 Q147.8,269.1 151.7,269.3" stroke="#c9b096" stroke-width="1.4"/>
<path d="M100.5,273.6 Q99.6,276.5 99.9,279.9" stroke="#d6c0a6" stroke-width="0.8"/>
<path d="M168.8,248.1 Q173.9,245.8 184.7,247" stroke="#c9b096" stroke-width="1.2"/>
<circle cx="200.9" cy="250.6" r="2.3" stroke="#c9b096" stroke-width="1.3" fill="none"/>
</g>
<circle cx="238" cy="221" r="47" fill="#fcf5da" stroke="#dccab0" stroke-width="1"/>
<circle cx="238" cy="221" r="41.5" fill="none" stroke="#cdb5a0" stroke-width="1"/>
<circle cx="238" cy="221" r="33" fill="none" stroke="#e2d0ba" stroke-width="1"/>
<circle cx="238" cy="221" r="29" fill="#c3aa96"/>
<circle cx="238" cy="221" r="26.5" fill="#fbf0de"/>
<path d="M217,208 Q224,193 234,191 L238,204 L226,214 L215,232 Q212,218 217,208Z" fill="#c9ae99"/>
<path d="M262,204 Q268,220 263,234 Q256,247 238,249 L222,246 Q250,242 258,230Z" fill="#c6ad9a"/>
<path d="M214,232 L226,214 L232,230 L222,244Z" fill="#f6dcc6"/>
<circle cx="232" cy="216" r="12" fill="#f6dfca"/>
<circle cx="231" cy="215" r="8.5" fill="#fdfaf4"/>
<path d="M220,242 Q240,232 258,232 L256,240 Q240,250 224,247Z" fill="#fbf3dc"/>
<polygon points="113,252 113,277 190,277 196,262 170,255 150,262" fill="#f4e4ca"/>
<rect x="190" y="258" width="24" height="4" rx="0" fill="#b9a08c"/>
<polyline points="146,262 146,277" fill="none" stroke="#e0cdb2" stroke-width="2" stroke-linecap="round" stroke-linejoin="round"/>
<polyline points="164,262 196,264" fill="none" stroke="#dcc6aa" stroke-width="2" stroke-linecap="round" stroke-linejoin="round"/>
<polygon points="286,236 300,220 303,240 290,252" fill="#fbf6ea"/>
<polygon points="143,166 166,163 171,172 176,190 182,200 182,208 164,208 150,212 143,197" fill="#c3c8dc"/>
<polygon points="150,176 162,172 166,196 154,204" fill="#a4a9c0"/>
<circle cx="127.5" cy="224" r="35.5" fill="#7f8499"/>
<polygon points="92,200 84,196 86,204 95,212" fill="#9a9fb5"/>
<circle cx="127.5" cy="224" r="32" fill="none" stroke="#a9aec4" stroke-width="5" stroke-dasharray="3 2.6"/>
<circle cx="129" cy="225" r="28.5" fill="#b9bed2"/>
<circle cx="131" cy="227" r="24" fill="#d3d7e6"/>
<circle cx="132" cy="227" r="20.5" fill="none" stroke="#5d6174" stroke-width="5" stroke-dasharray="2.6 2.4"/>
<circle cx="132.5" cy="227.3" r="17" fill="#c5c9dc"/>
<rect x="163" y="207.5" width="18.5" height="28" rx="6" fill="#d9dcea"/>
<rect x="163" y="213" width="18.5" height="3.5" rx="0" fill="#a3a8be"/>
<rect x="165" y="220" width="5" height="12" rx="0" fill="#f4f5fa"/>
<circle cx="169.5" cy="239.5" r="5" fill="#2c2d35"/>
<circle cx="169.5" cy="239.5" r="2.8" fill="#c8ccda"/>
<circle cx="158" cy="250" r="6" fill="#b5bace"/>
<circle cx="158" cy="250" r="3" fill="#eceef6"/>
<circle cx="160" cy="169" r="5" fill="#dfe2ee" stroke="#8e93aa" stroke-width="1"/>
<circle cx="175" cy="201" r="5" fill="#dfe2ee" stroke="#8e93aa" stroke-width="1"/>
<path d="M207.7,124 L207.7,59 A14.4,14.4 0 0 1 236.5,59 L236.5,116 Q238,130 250,133 L262,129 L345,99" fill="none" stroke="#121212" stroke-width="4.6"/>
<circle cx="225" cy="60" r="13.2" fill="#fbf3dc" stroke="#e6d5b8" stroke-width="1"/>
<circle cx="224.5" cy="60" r="6.5" fill="#f6e8cc" stroke="#dcc8a8" stroke-width="1"/>
<polyline points="80,99.4 134,91" fill="none" stroke="#121212" stroke-width="4" stroke-linecap="round" stroke-linejoin="round"/>
<polyline points="84,152 110,161 130,166" fill="none" stroke="#121212" stroke-width="3" stroke-linecap="round" stroke-linejoin="round"/>
<polyline points="238,150 290,138" fill="none" stroke="#121212" stroke-width="4" stroke-linecap="round" stroke-linejoin="round"/>
<polyline points="189,150 228,168 236,172" fill="none" stroke="#121212" stroke-width="2.5" stroke-linecap="round" stroke-linejoin="round"/>
<path d="M196,247 A47.8,47.8 0 0 1 236,173.2 L260,173 L290,171.5" fill="none" stroke="#121212" stroke-width="4"/>
<path d="M347,177 L312,184 Q300,188 296,204 L287,229" fill="none" stroke="#121212" stroke-width="4"/>
<polyline points="144,191 123.5,217.5" fill="none" stroke="#121212" stroke-width="4.6" stroke-linecap="round" stroke-linejoin="round"/>
<polyline points="150,222 169.5,171" fill="none" stroke="#121212" stroke-width="4.4" stroke-linecap="round" stroke-linejoin="round"/>
<polygon points="96.5,60 102,59 104,57 112,57 113,58.5 150,58 153.6,62 153.6,81.5 113,87 104.7,87.5 96.5,80" fill="#2b2b2b"/>
<polygon points="96.5,60 150,58 153.6,62 153,66 106,68" fill="#161616"/>
<polygon points="96.5,60 106,66 106,87 96.5,80" fill="#1c1c1c"/>
<polygon points="164.6,74.3 185.4,74.3 200,80.5 202.5,85.3 196.4,96.3 182.9,111.6 175.6,107.3 168.2,102.5 159.7,96.3 159.7,89" fill="#2a2a2a"/>
<ellipse cx="168" cy="93" rx="8" ry="6.5" fill="#1a1a1a"/>
<ellipse cx="186" cy="91" rx="9" ry="9" fill="#202020"/>
<circle cx="169" cy="78" r="2.8" fill="#c8ccda"/>
<circle cx="199" cy="85" r="2.8" fill="#c8ccda"/>
<circle cx="180" cy="108" r="2.6" fill="#c8ccda"/>
<circle cx="76.4" cy="126.5" r="26.8" fill="#151515"/>
<circle cx="76.8" cy="126.8" r="24.3" fill="#303030"/>
<circle cx="78.6" cy="129" r="13.4" fill="#2b2b2b" stroke="#1e1e1e" stroke-width="1"/>
<circle cx="71.8" cy="124.3" r="2.6" fill="#1a1a1a" stroke="#3d3d3d" stroke-width="0.8"/>
<circle cx="86.1" cy="124.1" r="2.6" fill="#1a1a1a" stroke="#3d3d3d" stroke-width="0.8"/>
<circle cx="78.8" cy="136" r="2.6" fill="#1a1a1a" stroke="#3d3d3d" stroke-width="0.8"/>
<circle cx="139.4" cy="126.9" r="36.4" fill="#141414"/>
<circle cx="141" cy="128.4" r="34" fill="#1b1b1b"/>
<circle cx="142.4" cy="129.8" r="32.3" fill="#292929"/>
<circle cx="142" cy="129.8" r="17.5" fill="#1f1f1f" stroke="#363636" stroke-width="1"/>
<circle cx="135.3" cy="103.2" r="3.7" fill="#d2d2d2" stroke="#6a6a6a" stroke-width="1.2"/>
<circle cx="160.1" cy="109.7" r="3.7" fill="#d2d2d2" stroke="#6a6a6a" stroke-width="1.2"/>
<circle cx="115.9" cy="121.5" r="3.7" fill="#d2d2d2" stroke="#6a6a6a" stroke-width="1.2"/>
<circle cx="164.8" cy="135.4" r="3.7" fill="#d2d2d2" stroke="#6a6a6a" stroke-width="1.2"/>
<circle cx="121.4" cy="147.4" r="3.7" fill="#d2d2d2" stroke="#6a6a6a" stroke-width="1.2"/>
<circle cx="146" cy="153.5" r="3.7" fill="#d2d2d2" stroke="#6a6a6a" stroke-width="1.2"/>
<circle cx="142.6" cy="131" r="4" fill="#ececec" stroke="#5a5a5a" stroke-width="1.5"/>
<circle cx="193" cy="133.5" r="16" fill="#161616"/>
<circle cx="193" cy="133.5" r="12.8" fill="#2e2e2e"/>
<circle cx="193" cy="133.5" r="10.6" fill="#222" stroke="#1a1a1a" stroke-width="0.8"/>
<circle cx="193" cy="133.5" r="8.3" fill="#8e8e8e"/>
<circle cx="193" cy="133.5" r="4.6" fill="#dedede"/>
<circle cx="193" cy="133.5" r="2.1" fill="#8e8e8e"/>
<circle cx="223.6" cy="139" r="17.3" fill="#161616"/>
<circle cx="223.6" cy="139" r="13.8" fill="#2e2e2e"/>
<circle cx="223.6" cy="139" r="11.4" fill="#222" stroke="#1a1a1a" stroke-width="0.8"/>
<circle cx="223.6" cy="139" r="8" fill="#c4c4c4"/>
<circle cx="223.6" cy="139" r="4.4" fill="#dedede"/>
<circle cx="223.6" cy="139" r="2" fill="#8e8e8e"/>
<circle cx="253.5" cy="117" r="16.2" fill="#161616"/>
<circle cx="253.5" cy="117" r="13" fill="#2e2e2e"/>
<circle cx="253.5" cy="117" r="10.7" fill="#222" stroke="#1a1a1a" stroke-width="0.8"/>
<circle cx="253.5" cy="117" r="6.5" fill="#9a9a9a"/>
<circle cx="253.5" cy="117" r="3.6" fill="#dedede"/>
<circle cx="253.5" cy="117" r="1.6" fill="#8e8e8e"/>
<circle cx="290.5" cy="155.3" r="17.6" fill="#161616"/>
<circle cx="290.5" cy="155.3" r="14.1" fill="#2e2e2e"/>
<circle cx="290.5" cy="155.3" r="11.6" fill="#222" stroke="#1a1a1a" stroke-width="0.8"/>
<circle cx="290.5" cy="155.3" r="10.9" fill="#d6d6d6"/>
<circle cx="290.5" cy="155.3" r="6" fill="#dedede"/>
<circle cx="290.5" cy="155.3" r="2.7" fill="#8e8e8e"/>
<circle cx="128.3" cy="182" r="17.2" fill="#161616"/>
<circle cx="128.3" cy="182" r="13.8" fill="#3c3c3c"/>
<circle cx="128.3" cy="182" r="11.4" fill="#222" stroke="#1a1a1a" stroke-width="0.8"/>
<circle cx="128.3" cy="182" r="8.3" fill="#8a8a8a"/>
<circle cx="128.3" cy="182" r="4.5" fill="#dedede"/>
<circle cx="128.3" cy="182" r="2.1" fill="#8e8e8e"/>
<circle cx="185.1" cy="178.3" r="16.2" fill="#161616"/>
<circle cx="185.1" cy="178.3" r="13" fill="#3a3a3a"/>
<circle cx="185.1" cy="178.3" r="10.7" fill="#222" stroke="#1a1a1a" stroke-width="0.8"/>
<circle cx="185.1" cy="178.3" r="6.8" fill="#9a9a9a"/>
<circle cx="185.1" cy="178.3" r="3.7" fill="#dedede"/>
<circle cx="185.1" cy="178.3" r="1.7" fill="#8e8e8e"/>
<circle cx="320" cy="205.5" r="21.2" fill="#161616"/>
<circle cx="320" cy="205.5" r="17" fill="#2c2c2c"/>
<circle cx="320" cy="205.5" r="14" fill="#222" stroke="#1a1a1a" stroke-width="0.8"/>
<circle cx="320" cy="205.5" r="8.5" fill="#d0d0d0"/>
<circle cx="320" cy="205.5" r="4.7" fill="#dedede"/>
<circle cx="320" cy="205.5" r="2.1" fill="#8e8e8e"/>
<circle cx="133.8" cy="227.5" r="15.6" fill="#171717"/>
<circle cx="133.8" cy="227.5" r="12" fill="#3a3a3a"/>
<circle cx="133.5" cy="227.5" r="5.8" fill="#cfcfcf"/>
<circle cx="133.5" cy="227.5" r="2.5" fill="#888"/>
<circle cx="352.8" cy="138.1" r="40" fill="#161616"/>
<circle cx="353" cy="138.3" r="37" fill="#2e2e2e"/>
<circle cx="353.4" cy="139.3" r="25" fill="#232323" stroke="#1a1a1a" stroke-width="1.5"/>
<circle cx="356" cy="141" r="19" fill="#2d2d2d"/>
<circle cx="357.8" cy="142.3" r="14.5" fill="#222" stroke="#3a3a3a" stroke-width="1"/>
<circle cx="359.5" cy="143.6" r="10.5" fill="#2a2a2a" stroke="#151515" stroke-width="1"/>
<circle cx="360.2" cy="144" r="5.3" fill="#e6e7ee"/>
</g>
<g clip-path="url(#c2)">
<polygon points="19,287 198,287 210,298 216,321 206,347 212,356 214,366 200,380 200,440 214,444 222,452 224,467 216,470 217,484 213,500 204,508 192,513 152,514 148,525 121.5,538.6 118,541 19,541" fill="#f1e2c9"/>
<polygon points="150,287 198,287 210,298 216,321 206,347 190,350 170,340 160,310" fill="#f1ddc0"/>
<polygon points="186,290 206,302 212,322 202,340 190,330 192,310" fill="#ead2b2"/>
<polygon points="150,300 175,296 180,345 160,350" fill="#ecd8ba"/>
<polyline points="160,296 164,350" fill="none" stroke="#d6be9e" stroke-width="2.5" stroke-linecap="round" stroke-linejoin="round"/>
<polyline points="172,318 196,338" fill="none" stroke="#d9c2a2" stroke-width="3" stroke-linecap="round" stroke-linejoin="round"/>
<polygon points="19,287 70,287 60,296 30,306 19,308" fill="#e9d5b8"/>
<polygon points="19,320 40,326 60,352 100,374 120,368 120,398 80,402 50,388 19,378" fill="#eedbbe"/>
<polygon points="80,290 150,290 150,300 90,304" fill="#ecd8bc"/>
<polygon points="90,345 150,352 150,368 120,372 100,365" fill="#e4cdae"/>
<polygon points="78,300 96,300 98,340 82,352" fill="#e6d0b2"/>
<g clip-path="url(#s2)" fill="none" stroke-linecap="round" stroke-linejoin="round">
<path d="M54.8,462.2 Q54.1,465.9 53.4,472.7" stroke="#d6c0a6" stroke-width="0.8"/>
<circle cx="99.5" cy="435.7" r="4" stroke="#c9b096" stroke-width="1.1" fill="#f8eedc"/>
<rect x="235.5" y="474.6" width="7.5" height="8.7" rx="1.5" stroke="#bca48a" stroke-width="0.9" fill="#f1e0c8" transform="rotate(90 235.5 474.6)"/>
<circle cx="24" cy="475.2" r="2.9" stroke="#c9b096" stroke-width="1.1" fill="#f8eedc"/>
<path d="M106.1,325.4 Q110.7,326.6 113.1,324.1" stroke="#d6c0a6" stroke-width="1.5"/>
<path d="M225,514.9 l0.4,4.7" stroke="#fbf3e4" stroke-width="2"/>
<rect x="62.6" y="521.5" width="6.3" height="8.7" rx="1.5" stroke="#d6c0a6" stroke-width="0.9" fill="#f1e0c8" transform="rotate(-14.6 62.6 521.5)"/>
<circle cx="102.9" cy="293.8" r="3.5" stroke="#bca48a" stroke-width="1.3" fill="none"/>
<rect x="125.7" y="426.8" width="8.6" height="4.9" rx="1.5" stroke="#c9b096" stroke-width="0.9" fill="#ead6bc" transform="rotate(0 125.7 426.8)"/>
<path d="M154.9,498.7 Q159.7,499.9 160.6,497.8" stroke="#bca48a" stroke-width="1.2"/>
<rect x="167.3" y="458.7" width="7.3" height="8.9" rx="1.5" stroke="#c9b096" stroke-width="0.9" fill="#ead6bc" transform="rotate(30.7 167.3 458.7)"/>
<path d="M128.8,456.4 l4.9,1.1" stroke="#fbf3e4" stroke-width="2"/>
<rect x="186.9" y="409.7" width="10.8" height="7" rx="1.5" stroke="#c9b096" stroke-width="0.9" fill="#ead6bc" transform="rotate(0 186.9 409.7)"/>
<path d="M104.6,508.1 Q106.1,513.8 105.8,514.5" stroke="#c9b096" stroke-width="1.3"/>
<path d="M225.8,515.5 Q223.2,516.6 215.8,518.1" stroke="#c9b096" stroke-width="0.9"/>
<rect x="146.7" y="322.4" width="9.5" height="8.7" rx="1.5" stroke="#d6c0a6" stroke-width="0.9" fill="#ead6bc" transform="rotate(90 146.7 322.4)"/>
<path d="M158.7,503.3 Q159.3,500 164.7,502.4" stroke="#d6c0a6" stroke-width="1.2"/>
<path d="M49.6,507.3 Q50.6,512.8 50.2,522.1" stroke="#c9b096" stroke-width="1.7"/>
<rect x="62.8" y="476" width="9.7" height="8.2" rx="1.5" stroke="#bca48a" stroke-width="0.9" fill="#ead6bc" transform="rotate(0 62.8 476)"/>
<path d="M103.1,506.6 Q108.3,503.2 115.7,505.3" stroke="#bca48a" stroke-width="1.2"/>
<path d="M86.1,515.8 Q86.2,518.8 85,521.8" stroke="#bca48a" stroke-width="1.5"/>
<path d="M228.9,365.8 Q238.6,363.6 242.6,363.2" stroke="#bca48a" stroke-width="1.1"/>
<circle cx="234.5" cy="314.3" r="3.3" stroke="#c9b096" stroke-width="1.2" fill="#f8eedc"/>
<path d="M128.6,527.6 Q127.3,531.9 131.1,542" stroke="#bca48a" stroke-width="1.5"/>
<path d="M28.1,357 Q26.5,360 27,366.3" stroke="#d6c0a6" stroke-width="1.7"/>
<circle cx="161" cy="296.5" r="3.5" stroke="#d6c0a6" stroke-width="1.2" fill="#f8eedc"/>
<path d="M155,479.7 Q155.1,487.9 156.6,494.7" stroke="#bca48a" stroke-width="1.6"/>
<circle cx="228.1" cy="538.3" r="2.3" stroke="#d6c0a6" stroke-width="1.2" fill="#eedcc4"/>
<circle cx="50.6" cy="427.5" r="3.3" stroke="#d6c0a6" stroke-width="1" fill="#eedcc4"/>
<path d="M119.3,314.5 l-3.5,5.6" stroke="#fbf3e4" stroke-width="1.6"/>
<circle cx="145.2" cy="335" r="2.6" stroke="#c9b096" stroke-width="0.9" fill="none"/>
<path d="M214.2,415.8 Q214.3,420.2 215.6,425" stroke="#bca48a" stroke-width="1.5"/>
<path d="M164.3,456.6 Q173.7,456.5 178,453.9" stroke="#c9b096" stroke-width="0.8"/>
<path d="M127.8,297 Q133.9,295.7 134.3,298.2" stroke="#bca48a" stroke-width="1.2"/>
<path d="M19.6,329.2 Q26.7,327.3 29.2,328.4" stroke="#d6c0a6" stroke-width="1.4"/>
<path d="M197.8,435.5 Q206.6,435.7 212.4,432.9" stroke="#c9b096" stroke-width="1"/>
<path d="M31.9,494.1 Q31.2,498.2 32.9,500.7" stroke="#bca48a" stroke-width="0.8"/>
<circle cx="194.1" cy="456.7" r="3.4" stroke="#c9b096" stroke-width="0.9" fill="#f8eedc"/>
<path d="M95.5,328.2 Q98.5,331.4 96.3,334.3" stroke="#d6c0a6" stroke-width="1.2"/>
<path d="M168.9,471.9 Q170.7,471.7 174.3,471.2" stroke="#c9b096" stroke-width="1.4"/>
<path d="M56.8,467.2 Q56.9,473 54.9,482.1" stroke="#c9b096" stroke-width="1.6"/>
<path d="M214.9,422.4 l-6.2,1.2" stroke="#fbf3e4" stroke-width="2.1"/>
<path d="M191.3,289.9 Q195.3,293.1 203.3,291.2" stroke="#bca48a" stroke-width="1.3"/>
<path d="M210.3,339.5 l0.9,5.6" stroke="#fbf3e4" stroke-width="2"/>
<path d="M226.2,518.2 Q232.5,525.4 238,526.8" stroke="#bca48a" stroke-width="1.7"/>
<path d="M226.2,478.8 l5,1.7" stroke="#fbf3e4" stroke-width="2.1"/>
<path d="M132.5,514.3 Q132.2,517.5 132,524.4" stroke="#c9b096" stroke-width="1"/>
<path d="M59,497.1 Q62.8,499.1 63,503.1" stroke="#d6c0a6" stroke-width="1.2"/>
<circle cx="84.5" cy="322.4" r="2.7" stroke="#c9b096" stroke-width="1" fill="none"/>
<path d="M187.7,507.1 Q194.8,509 198.7,508.8" stroke="#d6c0a6" stroke-width="0.8"/>
<path d="M217.9,320.6 Q219.8,328.4 217.3,333.2" stroke="#d6c0a6" stroke-width="1.2"/>
<rect x="73.3" y="485.6" width="8.8" height="5" rx="1.5" stroke="#c9b096" stroke-width="0.9" fill="#ead6bc" transform="rotate(0 73.3 485.6)"/>
<rect x="156.5" y="324.1" width="4.8" height="6.7" rx="1.5" stroke="#d6c0a6" stroke-width="0.9" fill="#f6ead8" transform="rotate(0 156.5 324.1)"/>
<circle cx="127" cy="468.1" r="4" stroke="#bca48a" stroke-width="1.3" fill="#eedcc4"/>
<circle cx="98.9" cy="336.1" r="2.4" stroke="#c9b096" stroke-width="1.2" fill="none"/>
<path d="M45.7,510.7 Q50.7,513.6 55.6,511.1" stroke="#c9b096" stroke-width="1.2"/>
<path d="M157.1,448.5 Q156.9,451.8 156.5,458.5" stroke="#d6c0a6" stroke-width="1.6"/>
<path d="M23.3,450.4 Q17.6,449.9 16.1,455.4" stroke="#c9b096" stroke-width="1.1"/>
<path d="M169.2,363 l4.5,2.3" stroke="#fbf3e4" stroke-width="1.8"/>
<circle cx="202.9" cy="343.1" r="3.3" stroke="#bca48a" stroke-width="1.1" fill="none"/>
<path d="M184.1,338.6 Q188.2,337.5 195.3,337.3" stroke="#bca48a" stroke-width="1.6"/>
<rect x="220.5" y="464.4" width="6.4" height="4.9" rx="1.5" stroke="#d6c0a6" stroke-width="0.9" fill="#e4ceb2" transform="rotate(30.8 220.5 464.4)"/>
<rect x="26.4" y="413.6" width="7.9" height="3.2" rx="1.5" stroke="#bca48a" stroke-width="0.9" fill="#ead6bc" transform="rotate(90 26.4 413.6)"/>
<path d="M187.4,469.8 Q186.4,477.7 186.6,482" stroke="#c9b096" stroke-width="0.9"/>
<path d="M81.3,310 Q84.6,310.7 90.6,309.2" stroke="#c9b096" stroke-width="1.7"/>
<rect x="29.6" y="476.4" width="9.5" height="6.8" rx="1.5" stroke="#bca48a" stroke-width="0.9" fill="#f1e0c8" transform="rotate(90 29.6 476.4)"/>
<path d="M176.5,298.9 Q179.1,297.1 181.6,299.5" stroke="#bca48a" stroke-width="1"/>
<circle cx="54.9" cy="531.8" r="3.8" stroke="#c9b096" stroke-width="1.3" fill="none"/>
<path d="M178.8,421.2 Q182.9,424 189,422" stroke="#d6c0a6" stroke-width="1.6"/>
<rect x="50.6" y="459.5" width="9.9" height="3.5" rx="1.5" stroke="#bca48a" stroke-width="0.9" fill="#ead6bc" transform="rotate(90 50.6 459.5)"/>
<path d="M90.1,383.5 l8.3,0.7" stroke="#fbf3e4" stroke-width="1.8"/>
<path d="M217.8,340.8 l5,2" stroke="#fbf3e4" stroke-width="1.2"/>
<circle cx="64.6" cy="382.8" r="3.5" stroke="#bca48a" stroke-width="1.1" fill="none"/>
<path d="M161.1,396.4 Q155.8,396.2 156.5,400.9" stroke="#d6c0a6" stroke-width="1.3"/>
<path d="M184.6,299.3 Q190.3,301 193.5,303.8" stroke="#c9b096" stroke-width="1.2"/>
<path d="M177.1,316.4 Q179.5,322.5 177.3,331.4" stroke="#bca48a" stroke-width="1.1"/>
<path d="M134,452.5 Q137.8,450.9 147.6,451.2" stroke="#c9b096" stroke-width="1"/>
<circle cx="94.1" cy="341.1" r="2.2" stroke="#c9b096" stroke-width="1.1" fill="#eedcc4"/>
<path d="M69.3,319.6 Q75.7,316.8 84.3,317" stroke="#bca48a" stroke-width="1"/>
<rect x="105" y="488" width="11.4" height="3.2" rx="1.5" stroke="#bca48a" stroke-width="0.9" fill="#e4ceb2" transform="rotate(90 105 488)"/>
<circle cx="197.2" cy="482.5" r="3.3" stroke="#c9b096" stroke-width="1.2" fill="#f8eedc"/>
<rect x="119" y="463" width="9.8" height="5.6" rx="1.5" stroke="#c9b096" stroke-width="0.9" fill="#ead6bc" transform="rotate(30.4 119 463)"/>
<path d="M37.4,468.5 Q41.5,471.6 42.5,468.8" stroke="#c9b096" stroke-width="1.3"/>
<rect x="175.6" y="287.5" width="4.7" height="5.4" rx="1.5" stroke="#d6c0a6" stroke-width="0.9" fill="#f1e0c8" transform="rotate(23 175.6 287.5)"/>
<path d="M181.7,334.4 Q185.3,332.3 191.1,333" stroke="#c9b096" stroke-width="1.2"/>
<path d="M135.6,316.5 Q140.4,317.4 145.5,318.1" stroke="#c9b096" stroke-width="1"/>
<circle cx="138.6" cy="358" r="2.6" stroke="#bca48a" stroke-width="1.1" fill="#eedcc4"/>
<path d="M123.9,393.7 Q131.6,392.4 134.5,395.9" stroke="#d6c0a6" stroke-width="1.5"/>
<path d="M76.6,477.6 Q82.8,483.3 87.2,487.4" stroke="#bca48a" stroke-width="0.9"/>
<circle cx="82.6" cy="532.9" r="2.2" stroke="#bca48a" stroke-width="0.8" fill="#eedcc4"/>
<path d="M128.9,489.7 Q126.8,497.4 125.9,503.7" stroke="#bca48a" stroke-width="1"/>
<path d="M60.7,467.7 l-2.6,4.5" stroke="#fbf3e4" stroke-width="2.2"/>
<rect x="221.1" y="446.9" width="6.3" height="7.4" rx="1.5" stroke="#d6c0a6" stroke-width="0.9" fill="#f6ead8" transform="rotate(90 221.1 446.9)"/>
<path d="M73.7,531 Q75.5,530.8 81.1,532.5" stroke="#bca48a" stroke-width="1.6"/>
<circle cx="68.2" cy="482.8" r="3.1" stroke="#bca48a" stroke-width="1.3" fill="#eedcc4"/>
<rect x="37.3" y="530" width="10.6" height="6.4" rx="1.5" stroke="#d6c0a6" stroke-width="0.9" fill="#f6ead8" transform="rotate(-26.5 37.3 530)"/>
<rect x="100.8" y="363.9" width="5.2" height="8.6" rx="1.5" stroke="#c9b096" stroke-width="0.9" fill="#f1e0c8" transform="rotate(11.5 100.8 363.9)"/>
<path d="M54.6,490.8 Q59.2,494.1 68.7,491.7" stroke="#c9b096" stroke-width="0.8"/>
<path d="M228.7,490.3 Q231.8,494.6 230,504.2" stroke="#d6c0a6" stroke-width="1.6"/>
<circle cx="217.3" cy="433.3" r="3" stroke="#bca48a" stroke-width="1" fill="none"/>
<path d="M118,391.6 Q115,391.7 110.3,397.2" stroke="#d6c0a6" stroke-width="1.6"/>
<path d="M172.6,354.4 Q173.8,362.7 169.9,367.7" stroke="#d6c0a6" stroke-width="1.2"/>
<path d="M93.3,527.2 l-5.2,2.8" stroke="#fbf3e4" stroke-width="1.5"/>
<circle cx="197.9" cy="460.8" r="2" stroke="#bca48a" stroke-width="0.9" fill="#eedcc4"/>
<path d="M44.5,413.5 Q43.3,418.9 45,421" stroke="#d6c0a6" stroke-width="0.9"/>
<circle cx="137.6" cy="523.2" r="2.8" stroke="#bca48a" stroke-width="1.1" fill="#eedcc4"/>
<path d="M105.8,314 Q116.2,315.7 121,317.6" stroke="#c9b096" stroke-width="1.2"/>
<circle cx="68.3" cy="357.2" r="3.4" stroke="#c9b096" stroke-width="0.9" fill="#f8eedc"/>
<rect x="148.9" y="438.9" width="4.9" height="5.4" rx="1.5" stroke="#bca48a" stroke-width="0.9" fill="#ead6bc" transform="rotate(90 148.9 438.9)"/>
<circle cx="209.4" cy="480.7" r="4" stroke="#c9b096" stroke-width="1.2" fill="#f8eedc"/>
<path d="M93.9,382 Q99.9,382.3 100.3,382.1" stroke="#bca48a" stroke-width="1.4"/>
<path d="M87.4,466.3 Q85.1,471.4 85.7,478.7" stroke="#c9b096" stroke-width="1"/>
<rect x="28.1" y="530.6" width="4.3" height="4.6" rx="1.5" stroke="#bca48a" stroke-width="0.9" fill="#f6ead8" transform="rotate(0 28.1 530.6)"/>
<path d="M190.5,535.5 Q194.7,537.7 199.2,536.6" stroke="#bca48a" stroke-width="1.1"/>
<rect x="124.4" y="447.9" width="8.3" height="5" rx="1.5" stroke="#c9b096" stroke-width="0.9" fill="#ead6bc" transform="rotate(-27.4 124.4 447.9)"/>
<path d="M172.6,448.2 Q182.7,448.1 187.6,453.1" stroke="#bca48a" stroke-width="1"/>
<path d="M199,322.3 l-5.2,1.3" stroke="#fbf3e4" stroke-width="1.8"/>
<rect x="62.7" y="526.2" width="4.4" height="3.9" rx="1.5" stroke="#d6c0a6" stroke-width="0.9" fill="#e4ceb2" transform="rotate(90 62.7 526.2)"/>
<circle cx="83.8" cy="385" r="2.2" stroke="#bca48a" stroke-width="1.2" fill="#f8eedc"/>
<rect x="208.3" y="295.4" width="8.2" height="6.8" rx="1.5" stroke="#c9b096" stroke-width="0.9" fill="#f1e0c8" transform="rotate(90 208.3 295.4)"/>
<rect x="92.6" y="427" width="8.6" height="7.8" rx="1.5" stroke="#c9b096" stroke-width="0.9" fill="#f6ead8" transform="rotate(-0.5 92.6 427)"/>
<rect x="117.4" y="420.4" width="7.5" height="7.1" rx="1.5" stroke="#bca48a" stroke-width="0.9" fill="#f6ead8" transform="rotate(0 117.4 420.4)"/>
<path d="M93.1,317.2 Q95.6,319 93.3,323.6" stroke="#bca48a" stroke-width="1.1"/>
<path d="M197.5,334.3 Q199.9,341.3 197.9,350.1" stroke="#d6c0a6" stroke-width="1.6"/>
<circle cx="67.2" cy="452.5" r="3.8" stroke="#bca48a" stroke-width="1.2" fill="#f8eedc"/>
<circle cx="205.6" cy="307.2" r="3.9" stroke="#d6c0a6" stroke-width="1.2" fill="#eedcc4"/>
<path d="M205.4,426.9 l3.5,5.3" stroke="#fbf3e4" stroke-width="1.4"/>
<path d="M86.4,442.8 Q85.7,449 87.3,453.7" stroke="#c9b096" stroke-width="1"/>
<path d="M183.4,385.6 Q188.1,384.5 190.8,384.1" stroke="#c9b096" stroke-width="1.8"/>
<circle cx="166.8" cy="327.3" r="1.8" stroke="#d6c0a6" stroke-width="0.8" fill="#eedcc4"/>
<circle cx="125.4" cy="442.6" r="2.8" stroke="#bca48a" stroke-width="1.1" fill="none"/>
<path d="M188.4,502.5 l-5.6,6.2" stroke="#fbf3e4" stroke-width="1.3"/>
<path d="M61.8,484.4 l3.9,2.4" stroke="#fbf3e4" stroke-width="1.6"/>
<path d="M105,469.1 Q105.1,478 106,481.1" stroke="#bca48a" stroke-width="0.9"/>
<path d="M214,448.8 Q218.5,451.2 222.5,458.5" stroke="#c9b096" stroke-width="1.7"/>
<rect x="86.7" y="409" width="10.8" height="5.2" rx="1.5" stroke="#c9b096" stroke-width="0.9" fill="#f6ead8" transform="rotate(-12.9 86.7 409)"/>
<path d="M22.6,514.3 Q21.2,516.2 24,523.5" stroke="#c9b096" stroke-width="0.9"/>
<path d="M59,403.5 Q57,411.9 59.3,414.7" stroke="#d6c0a6" stroke-width="1.2"/>
<path d="M113.3,359.4 Q117,361.6 120.8,358.5" stroke="#d6c0a6" stroke-width="1"/>
<circle cx="80.6" cy="501.6" r="2.8" stroke="#c9b096" stroke-width="1" fill="#eedcc4"/>
<path d="M207.6,488.4 Q207.2,493.7 205.3,494.7" stroke="#d6c0a6" stroke-width="1.6"/>
<path d="M37.7,489.8 Q36.1,494.4 37,503.6" stroke="#bca48a" stroke-width="1"/>
<circle cx="164.9" cy="465.4" r="3.3" stroke="#c9b096" stroke-width="1.1" fill="none"/>
<path d="M216.5,479.4 Q217.8,486.2 215,495.3" stroke="#d6c0a6" stroke-width="1.8"/>
<rect x="192" y="288" width="11.6" height="8.7" rx="1.5" stroke="#bca48a" stroke-width="0.9" fill="#f6ead8" transform="rotate(0 192 288)"/>
<rect x="130.9" y="508.2" width="7.5" height="3.8" rx="1.5" stroke="#c9b096" stroke-width="0.9" fill="#f6ead8" transform="rotate(0 130.9 508.2)"/>
<path d="M196,322.5 l7.4,4.8" stroke="#fbf3e4" stroke-width="1.6"/>
<rect x="129" y="517.6" width="10.8" height="5.5" rx="1.5" stroke="#c9b096" stroke-width="0.9" fill="#ead6bc" transform="rotate(90 129 517.6)"/>
<path d="M54.3,402.8 l-2.7,9.4" stroke="#fbf3e4" stroke-width="2"/>
<path d="M57.9,380.9 Q57.1,386.5 54.4,386.3" stroke="#d6c0a6" stroke-width="1.1"/>
<path d="M77.5,371.2 Q75.7,373.5 71.2,381.7" stroke="#c9b096" stroke-width="0.8"/>
<path d="M183.7,520.3 Q183.8,520.4 186.1,526" stroke="#d6c0a6" stroke-width="1.3"/>
<path d="M120.4,359.3 Q125.4,359.3 136,356.8" stroke="#c9b096" stroke-width="1.3"/>
<path d="M146.5,364.4 l1.4,6.3" stroke="#fbf3e4" stroke-width="2.1"/>
<path d="M52.9,509 Q57.1,511.6 61.4,517.2" stroke="#bca48a" stroke-width="1.5"/>
<path d="M26.2,305.2 Q34.2,306.5 38.7,304.3" stroke="#d6c0a6" stroke-width="1"/>
<path d="M34.1,397.3 l-7.2,0.3" stroke="#fbf3e4" stroke-width="1.3"/>
<path d="M229.9,532.6 Q233.8,534.7 234.8,533.5" stroke="#c9b096" stroke-width="0.9"/>
<circle cx="149.8" cy="324.7" r="3.8" stroke="#bca48a" stroke-width="1" fill="#eedcc4"/>
<path d="M133.3,345.3 l1.5,7.3" stroke="#fbf3e4" stroke-width="1.7"/>
<path d="M172.7,407.4 Q169.7,411.3 161.6,410.4" stroke="#bca48a" stroke-width="1.5"/>
<path d="M92.5,440.3 Q97.3,440.4 105.6,442.5" stroke="#bca48a" stroke-width="0.9"/>
<path d="M91.7,327 Q95.9,329.3 103.2,334.1" stroke="#bca48a" stroke-width="1.3"/>
<circle cx="153.3" cy="522.2" r="2.2" stroke="#c9b096" stroke-width="1" fill="#eedcc4"/>
<path d="M212.9,334.3 l1.4,5.9" stroke="#fbf3e4" stroke-width="1.8"/>
<circle cx="206" cy="331.8" r="2.4" stroke="#c9b096" stroke-width="1" fill="#f8eedc"/>
<path d="M198.6,374.3 Q199.5,375.4 204.1,375.1" stroke="#c9b096" stroke-width="1.2"/>
<path d="M44.4,512.6 Q41.7,517.4 43.2,527.4" stroke="#d6c0a6" stroke-width="1.2"/>
<circle cx="221.8" cy="302.1" r="1.9" stroke="#bca48a" stroke-width="1.1" fill="none"/>
<path d="M48.8,537.6 Q55.8,535 58.9,535.9" stroke="#bca48a" stroke-width="1.2"/>
<circle cx="191.2" cy="430.4" r="3.7" stroke="#bca48a" stroke-width="1" fill="#f8eedc"/>
<path d="M24.1,301.8 Q26.9,306.9 25.1,312.8" stroke="#c9b096" stroke-width="1.6"/>
<rect x="52.5" y="400" width="10.1" height="7.5" rx="1.5" stroke="#d6c0a6" stroke-width="0.9" fill="#e4ceb2" transform="rotate(0.4 52.5 400)"/>
<circle cx="87.3" cy="497.2" r="3.3" stroke="#bca48a" stroke-width="1" fill="#eedcc4"/>
<path d="M108.9,536.1 l5.1,1.5" stroke="#fbf3e4" stroke-width="1.8"/>
<path d="M48.1,302.4 Q44.1,307.7 45.1,317.4" stroke="#bca48a" stroke-width="1.8"/>
<circle cx="228.4" cy="330.6" r="2.6" stroke="#bca48a" stroke-width="1.1" fill="none"/>
<circle cx="157.2" cy="493.8" r="2.2" stroke="#bca48a" stroke-width="1.2" fill="none"/>
<path d="M100.3,440.6 Q102.5,443 100.5,451.3" stroke="#c9b096" stroke-width="1.1"/>
<circle cx="25.7" cy="474.1" r="3.8" stroke="#bca48a" stroke-width="0.9" fill="none"/>
<rect x="58.1" y="392.2" width="11.4" height="5.2" rx="1.5" stroke="#d6c0a6" stroke-width="0.9" fill="#f6ead8" transform="rotate(23.6 58.1 392.2)"/>
<path d="M76.1,381.9 Q75.1,387.5 75.8,387.9" stroke="#bca48a" stroke-width="1.6"/>
<path d="M229,434.3 Q231.5,435.5 239.1,439.9" stroke="#d6c0a6" stroke-width="1.6"/>
<path d="M212,452.3 Q215.4,455.2 223.9,452.8" stroke="#c9b096" stroke-width="1.7"/>
<circle cx="116.6" cy="326" r="2.4" stroke="#d6c0a6" stroke-width="1" fill="none"/>
<path d="M209.8,495.5 Q208.6,502.6 211,506.9" stroke="#c9b096" stroke-width="1.5"/>
<circle cx="212.1" cy="437.8" r="3.2" stroke="#c9b096" stroke-width="1.3" fill="#eedcc4"/>
<rect x="218.1" y="331.5" width="9.6" height="6.8" rx="1.5" stroke="#d6c0a6" stroke-width="0.9" fill="#ead6bc" transform="rotate(0 218.1 331.5)"/>
<rect x="139.1" y="350.7" width="7.7" height="8.1" rx="1.5" stroke="#d6c0a6" stroke-width="0.9" fill="#e4ceb2" transform="rotate(90 139.1 350.7)"/>
<rect x="61.8" y="463.3" width="9.6" height="8.7" rx="1.5" stroke="#bca48a" stroke-width="0.9" fill="#ead6bc" transform="rotate(90 61.8 463.3)"/>
<path d="M223.4,491 Q231,492.2 236.2,488.8" stroke="#c9b096" stroke-width="1.6"/>
<path d="M188.2,424.7 Q194.7,423 200.6,425.8" stroke="#d6c0a6" stroke-width="1.8"/>
<path d="M176.8,474.8 Q173.4,478 175.5,485.2" stroke="#bca48a" stroke-width="1.1"/>
<path d="M92.1,439.1 Q88.7,446.5 89.5,451.6" stroke="#d6c0a6" stroke-width="1.6"/>
<rect x="135.7" y="448" width="8.2" height="8.2" rx="1.5" stroke="#d6c0a6" stroke-width="0.9" fill="#f6ead8" transform="rotate(0 135.7 448)"/>
<path d="M86.7,311.8 l-3.6,4.6" stroke="#fbf3e4" stroke-width="2.2"/>
<path d="M227.6,365.7 Q227.3,371.7 227.4,373.8" stroke="#d6c0a6" stroke-width="1.4"/>
<circle cx="233.8" cy="338.5" r="2.9" stroke="#c9b096" stroke-width="1.2" fill="#eedcc4"/>
<path d="M66.5,448.8 l-9.5,2.1" stroke="#fbf3e4" stroke-width="1.7"/>
<circle cx="66.7" cy="481.3" r="3" stroke="#c9b096" stroke-width="0.9" fill="#f8eedc"/>
<circle cx="156.4" cy="391.2" r="3.5" stroke="#c9b096" stroke-width="0.9" fill="none"/>
<path d="M136.7,475.6 Q134.5,478.1 131.3,478" stroke="#c9b096" stroke-width="1.6"/>
<path d="M203.6,355.2 Q205.7,357.9 212.1,355.9" stroke="#bca48a" stroke-width="1.3"/>
<path d="M108.8,318.9 Q108.9,325.9 110.3,329" stroke="#d6c0a6" stroke-width="1.2"/>
<rect x="156.5" y="473" width="9.4" height="4.2" rx="1.5" stroke="#d6c0a6" stroke-width="0.9" fill="#f1e0c8" transform="rotate(0 156.5 473)"/>
<path d="M180.7,357 Q186.6,356.7 189.4,358.6" stroke="#c9b096" stroke-width="1.5"/>
<path d="M211.8,313.4 Q214.4,320.8 213.1,323.9" stroke="#c9b096" stroke-width="1.8"/>
<path d="M29,497.4 Q32.1,499 29.6,502.8" stroke="#c9b096" stroke-width="1"/>
<rect x="46.9" y="518.8" width="10" height="5.2" rx="1.5" stroke="#c9b096" stroke-width="0.9" fill="#e4ceb2" transform="rotate(0 46.9 518.8)"/>
<path d="M134.1,358.6 Q132.4,367.7 132.7,373.4" stroke="#d6c0a6" stroke-width="1.3"/>
<circle cx="189" cy="521.5" r="3.2" stroke="#d6c0a6" stroke-width="0.9" fill="#f8eedc"/>
<circle cx="194.6" cy="396.1" r="4" stroke="#c9b096" stroke-width="0.9" fill="#eedcc4"/>
<path d="M66.4,315.2 Q75.9,317.6 82,316.1" stroke="#bca48a" stroke-width="1"/>
<path d="M92.1,349.7 Q89.5,355.2 91.1,359.8" stroke="#bca48a" stroke-width="1.2"/>
<path d="M146.1,423.2 Q147.8,425.7 146.8,428.7" stroke="#c9b096" stroke-width="1.6"/>
<circle cx="144.3" cy="383.9" r="3.4" stroke="#c9b096" stroke-width="0.9" fill="none"/>
<circle cx="73.5" cy="390.6" r="4.2" stroke="#d6c0a6" stroke-width="0.9" fill="none"/>
<rect x="40.9" y="293.7" width="11.2" height="4.4" rx="1.5" stroke="#d6c0a6" stroke-width="0.9" fill="#ead6bc" transform="rotate(0 40.9 293.7)"/>
<path d="M235.2,519.5 Q242,521.8 250.1,520" stroke="#bca48a" stroke-width="1.6"/>
<path d="M100.2,484.9 Q104.4,488 108.4,491.9" stroke="#bca48a" stroke-width="1.8"/>
<path d="M56.2,518.4 Q56.7,525.2 57.5,528.8" stroke="#c9b096" stroke-width="1.7"/>
<path d="M34.6,509.7 l-0.8,6.3" stroke="#fbf3e4" stroke-width="1.9"/>
<path d="M67.5,491 Q72.9,494 78.6,492.9" stroke="#d6c0a6" stroke-width="1"/>
<path d="M177.2,507.2 l-0.3,8.4" stroke="#fbf3e4" stroke-width="1.7"/>
<path d="M138.9,382.5 Q144.7,386.8 146.8,386.8" stroke="#d6c0a6" stroke-width="1"/>
<path d="M94.5,350.3 Q102.9,349.3 108.1,350" stroke="#bca48a" stroke-width="0.9"/>
<path d="M77.4,468 Q81.3,466 82.9,467.2" stroke="#c9b096" stroke-width="1"/>
<path d="M126.1,330.7 Q134.6,331.3 140.3,332.6" stroke="#c9b096" stroke-width="1.7"/>
<circle cx="136.8" cy="427.8" r="1.8" stroke="#d6c0a6" stroke-width="0.9" fill="#eedcc4"/>
<rect x="151.8" y="466.9" width="10.4" height="3.3" rx="1.5" stroke="#bca48a" stroke-width="0.9" fill="#f6ead8" transform="rotate(0 151.8 466.9)"/>
</g>
<polygon points="179,289 192,289 197,302 194,318 186,321 180,310" fill="#fcf7ea"/>
<path d="M194,290 Q214,300 214,322 Q212,338 204,347" fill="none" stroke="#d9c0a0" stroke-width="3"/>
<circle cx="121" cy="328" r="23.5" fill="#e6cfb0" stroke="#d2ba9a" stroke-width="1"/>
<circle cx="121.5" cy="328" r="18.5" fill="#f0dabc" stroke="#c4a98a" stroke-width="2"/>
<polyline points="104,329.5 139,326.5" fill="none" stroke="#c9ae8e" stroke-width="1.6" stroke-linecap="round" stroke-linejoin="round"/>
<path d="M42.3,388 L42.3,314 Q42,295.5 58.5,295.3 Q73.5,296 73,316 L72.8,370 Q76,389 96,387.5 L118,379 L170,362" fill="none" stroke="#34302c" stroke-width="2.2"/>
<circle cx="58.8" cy="312.4" r="15.3" fill="#fbf1da" stroke="#cdb597" stroke-width="1"/>
<circle cx="58.8" cy="312.4" r="7" fill="#f6e8cc" stroke="#cdb597" stroke-width="1"/>
<circle cx="89.5" cy="371.2" r="15.8" fill="#f9eed6" stroke="#cdb597" stroke-width="1.2"/>
<circle cx="89.5" cy="371.2" r="9" fill="#f3e2c6" stroke="#cdb597" stroke-width="1"/>
<circle cx="89.5" cy="371.2" r="4" fill="#efe0c4" stroke="#c4ab8b" stroke-width="1"/>
<circle cx="60" cy="395.5" r="16.6" fill="#f1e0c4" stroke="#c4ab8b" stroke-width="2.2"/>
<circle cx="60" cy="395.5" r="11" fill="#f3e3c8" stroke="#c4ab8b" stroke-width="1.2"/>
<circle cx="60" cy="395.5" r="5" fill="#f9efd9" stroke="#cdb597" stroke-width="1"/>
<circle cx="129" cy="413.5" r="16.6" fill="#f7ead0" stroke="#c9b091" stroke-width="1.4"/>
<circle cx="129" cy="413.5" r="10.5" fill="none" stroke="#c9b091" stroke-width="1.8"/>
<circle cx="129" cy="413.5" r="5" fill="#f3e2c6" stroke="#cdb597" stroke-width="1"/>
<circle cx="29" cy="436" r="15" fill="#f3e2c6" stroke="#c9b091" stroke-width="1.3"/>
<circle cx="29" cy="436" r="8.5" fill="none" stroke="#cdb597" stroke-width="1.4"/>
<circle cx="29" cy="436" r="4" fill="none" stroke="#cdb597" stroke-width="1"/>
<circle cx="74" cy="422" r="10" fill="#f8edd6" stroke="#cdb597" stroke-width="1.2"/>
<circle cx="32" cy="389" r="6" fill="#f6e8cc" stroke="#cdb597" stroke-width="1.2"/>
<polyline points="19,352 40,356 70,378" fill="none" stroke="#e0c9aa" stroke-width="4" stroke-linecap="round" stroke-linejoin="round"/>
<path d="M70.5,409.5 L129,395.5 M80,434.5 L128,431.5 Q147,428 147,412" fill="none" stroke="#34302c" stroke-width="2.4"/>
<circle cx="189.3" cy="482.4" r="26" fill="#f7ead0" stroke="#cdb597" stroke-width="1"/>
<circle cx="189.3" cy="482.4" r="19" fill="#f1dec2" stroke="#c9b091" stroke-width="1.4"/>
<circle cx="189.3" cy="482.4" r="10" fill="#f6e8cc" stroke="#cdb597" stroke-width="1"/>
<circle cx="189.3" cy="482.4" r="4.5" fill="#efe0c4" stroke="#c4ab8b" stroke-width="1"/>
<rect x="152" y="510" width="40" height="4" rx="0" fill="#e6d2b4"/>
<polygon points="19,520 30,524 60,530 110,528 121.5,538.6 118,541 19,541" fill="#efdcc0"/>
<polyline points="22,532 112,533" fill="none" stroke="#d0b99a" stroke-width="2.2" stroke-linecap="round" stroke-linejoin="round"/>
<rect x="112" y="514" width="32" height="8" rx="0" fill="#ecd9bc"/>
<polyline points="124,522 148,518" fill="none" stroke="#cdb597" stroke-width="1.5" stroke-linecap="round" stroke-linejoin="round"/>
<ellipse cx="75" cy="484.8" rx="47.4" ry="49.4" fill="#fbf3da" stroke="#cdb89a" stroke-width="1.2"/>
<ellipse cx="75.3" cy="484.2" rx="43" ry="44.5" fill="none" stroke="#c4ad95" stroke-width="1.2"/>
<circle cx="76.4" cy="482.2" r="35" fill="#bfa690"/>
<circle cx="76.4" cy="482.2" r="32.3" fill="#f6e7d2"/>
<path d="M58,462 Q66,450 80,452 L82,465 L68,477 L54,496 Q50,474 58,462Z" fill="#c6ab95"/>
<path d="M107,470 Q110,490 103,502 Q92,514 74,514 L58,510 Q86,508 99,495Z" fill="#c3aa95"/>
<circle cx="75.7" cy="478.7" r="14.5" fill="#f2dac2" stroke="#d9c4aa" stroke-width="1"/>
<circle cx="75" cy="478.5" r="9.5" fill="#fdfaf2"/>
<path d="M58,509 Q72,497 95,495 L99,497 Q90,510 72,513Z" fill="#fbf3dc" stroke="#cdb69e" stroke-width="0.8"/>
<polygon points="111,368 115,364 123,366 160,364 180,352 182,346.5 191,346.5 198,354 198,440 186,452 174,454 164,446 152,436 150,412 140,392 124,378 112,374" fill="#b3b8cd"/>
<polygon points="128,368 162,366 150,398 140,390" fill="#c9cddd"/>
<polygon points="150,412 158,408 170,440 160,444" fill="#d5d8e8"/>
<polygon points="160,366 181,353 160,400 152,396" fill="#9298b1"/>
<circle cx="116" cy="369" r="3.4" fill="#e6e8f3" stroke="#8a8fa8" stroke-width="1"/>
<circle cx="186.2" cy="352.6" r="3.8" fill="#e6e8f3" stroke="#8a8fa8" stroke-width="1"/>
<circle cx="172" cy="446" r="3" fill="#e6e8f3" stroke="#8a8fa8" stroke-width="1"/>
<circle cx="119" cy="438" r="3" fill="#c6cadc" stroke="#8a8fa8" stroke-width="1"/>
<circle cx="161" cy="424" r="3" fill="#c6cadc" stroke="#8a8fa8" stroke-width="1"/>
<circle cx="160" cy="438" r="3" fill="#c6cadc" stroke="#8a8fa8" stroke-width="1"/>
<polyline points="112,383.5 171,360.5" fill="none" stroke="#1d1d1d" stroke-width="3" stroke-linecap="round" stroke-linejoin="round"/>
<path d="M190,439.5 L166,445 Q152,448 146,462 L127,493" fill="none" stroke="#1a1a1a" stroke-width="3"/>
<circle cx="197.5" cy="398.2" r="40.8" fill="#161616"/>
<circle cx="197.5" cy="398.4" r="37.5" fill="#2e2e2e"/>
<circle cx="198" cy="399.5" r="26" fill="#232323" stroke="#1a1a1a" stroke-width="1.5"/>
<circle cx="198.5" cy="400" r="19.5" fill="#2d2d2d"/>
<circle cx="199" cy="400.3" r="15" fill="#222" stroke="#3a3a3a" stroke-width="1"/>
<circle cx="199.3" cy="400.6" r="10.5" fill="#2a2a2a" stroke="#151515" stroke-width="1"/>
<circle cx="199.5" cy="401" r="5.4" fill="#d8daea"/>
<circle cx="163" cy="467" r="21.7" fill="#161616"/>
<circle cx="163" cy="467" r="18" fill="#2c2c2c"/>
<circle cx="163" cy="467" r="14" fill="#222"/>
<circle cx="163" cy="467.3" r="8.8" fill="#d4d4d4"/>
<circle cx="163" cy="467.3" r="5" fill="#f0f0f0"/>
<circle cx="163" cy="467.3" r="2.2" fill="#aaa"/>
</g>
<g clip-path="url(#c3)">
<polygon points="130,554 400,554 400,829 210,829 210,810 196,806 172,766 165.7,764.8 124.4,768.7 115.3,761.8 112.2,746.5 122.9,720.5 135.1,699.2 131,690 122,648 113,622 116,610 124,590 132,572" fill="#eddbc6"/>
<polygon points="130,554 176,554 170,590 172,640 174,690 131,690 122,648 113,622 116,610 124,590 132,572" fill="#f2e3d0"/>
<polygon points="130.5,554.5 177.9,554.5 173.3,568.3 164.2,583.5 161.1,598.8 150.4,591.2 144.3,583.5 135.1,588.1 130.5,571.3" fill="#bea78f"/>
<polyline points="140,556 146,580" fill="none" stroke="#efe2d0" stroke-width="1.6" stroke-linecap="round" stroke-linejoin="round"/>
<polyline points="152,568 156,588" fill="none" stroke="#efe2d0" stroke-width="1.6" stroke-linecap="round" stroke-linejoin="round"/>
<path d="M146,592 Q120,600 116,622 Q124,640 128,664" fill="none" stroke="#d6bfa6" stroke-width="2"/>
<path d="M152,598 Q128,606 124,626 Q130,646 136,676" fill="none" stroke="#d6bfa6" stroke-width="2"/>
<path d="M158,606 Q136,612 132,632 Q138,652 146,684" fill="none" stroke="#d6bfa6" stroke-width="2"/>
<path d="M164,616 Q146,624 144,640 Q148,662 158,690" fill="none" stroke="#dcc6ae" stroke-width="5"/>
<path d="M142,554 Q138,580 150,620" fill="none" stroke="#ccb59c" stroke-width="2.5"/>
<polygon points="130.5,690 135.1,699.2 122.9,720.5 112.2,746.5 115.3,761.8 124.4,768.7 165.7,764.8 168.7,757.2 162.6,745 167.2,732.8 174.8,729.7 174.8,690" fill="#e2cbb3"/>
<polygon points="136,700 150,700 152,730 140,750 126,750 126,724" fill="#d3baa1"/>
<polygon points="114,748 118,762 126,767 164,763 166,756 128,758" fill="#eedcc8"/>
<circle cx="162.5" cy="719" r="13" fill="#f3e6d4" stroke="#c9b29a" stroke-width="1.4"/>
<circle cx="164" cy="720" r="9" fill="#e6d2bc" stroke="#c9b29a" stroke-width="1.4"/>
<circle cx="165" cy="721" r="5.5" fill="#d3bca4" stroke="#bba48c" stroke-width="1"/>
<g clip-path="url(#s3)" fill="none" stroke-linecap="round" stroke-linejoin="round">
<path d="M172.8,584.9 Q177.1,587.9 185.6,585.1" stroke="#b59e86" stroke-width="0.8"/>
<rect x="183.9" y="617.6" width="7.3" height="9" rx="1.5" stroke="#b59e86" stroke-width="0.9" fill="#ead6bc" transform="rotate(-30.5 183.9 617.6)"/>
<path d="M248.6,610.6 Q254.3,608.4 258.1,611.5" stroke="#b59e86" stroke-width="0.9"/>
<circle cx="211.4" cy="591.1" r="1.9" stroke="#d3bda3" stroke-width="1.2" fill="#f8eedc"/>
<rect x="319.8" y="614" width="6.9" height="5" rx="1.5" stroke="#b59e86" stroke-width="0.9" fill="#f6ead8" transform="rotate(90 319.8 614)"/>
<path d="M247.3,645.9 Q248.7,655.4 244.3,661.4" stroke="#b59e86" stroke-width="1.1"/>
<path d="M210.5,725.5 Q218.7,725.7 225.6,723.6" stroke="#b59e86" stroke-width="0.9"/>
<path d="M261.8,804.3 Q268.4,805.3 271.6,805.5" stroke="#c4ad94" stroke-width="0.9"/>
<circle cx="192.7" cy="824.3" r="2.3" stroke="#c4ad94" stroke-width="0.9" fill="none"/>
<rect x="279.4" y="691" width="10.9" height="8.9" rx="1.5" stroke="#d3bda3" stroke-width="0.9" fill="#f1e0c8" transform="rotate(0 279.4 691)"/>
<rect x="366.5" y="687.5" width="9.5" height="8.8" rx="1.5" stroke="#b59e86" stroke-width="0.9" fill="#ead6bc" transform="rotate(-19.6 366.5 687.5)"/>
<path d="M250.2,557.1 Q256.4,558.8 261.3,555.4" stroke="#d3bda3" stroke-width="1.7"/>
<rect x="351.5" y="814.3" width="5.5" height="5.7" rx="1.5" stroke="#b59e86" stroke-width="0.9" fill="#f1e0c8" transform="rotate(0 351.5 814.3)"/>
<path d="M334.9,680.9 Q337.5,690.3 337.1,694.4" stroke="#d3bda3" stroke-width="1.5"/>
<rect x="303.3" y="599.7" width="9.9" height="4.2" rx="1.5" stroke="#c4ad94" stroke-width="0.9" fill="#f6ead8" transform="rotate(90 303.3 599.7)"/>
<path d="M217.1,798.8 Q213.6,806.5 215.7,812.9" stroke="#b59e86" stroke-width="1.7"/>
<rect x="229.5" y="609.6" width="5.7" height="3.2" rx="1.5" stroke="#d3bda3" stroke-width="0.9" fill="#f1e0c8" transform="rotate(0 229.5 609.6)"/>
<path d="M225.2,642.6 Q229.8,641.7 232.8,641.2" stroke="#d3bda3" stroke-width="1.3"/>
<circle cx="385.1" cy="630.3" r="2" stroke="#c4ad94" stroke-width="0.9" fill="#f8eedc"/>
<path d="M361.3,823.8 Q359.6,830 360.1,831.4" stroke="#d3bda3" stroke-width="1.8"/>
<path d="M225,593.2 Q225,594.1 220.1,595.1" stroke="#d3bda3" stroke-width="1.1"/>
<path d="M277.9,812.4 Q281,814.4 285.3,812.6" stroke="#d3bda3" stroke-width="1"/>
<path d="M332.3,567.2 l6.2,7.2" stroke="#fbf3e4" stroke-width="1.3"/>
<rect x="296.4" y="644.1" width="5.1" height="3.3" rx="1.5" stroke="#d3bda3" stroke-width="0.9" fill="#e4ceb2" transform="rotate(23.9 296.4 644.1)"/>
<path d="M221.8,790.9 Q221.8,797.1 222.1,801.2" stroke="#c4ad94" stroke-width="1.7"/>
<path d="M360.2,754 Q360.2,759.2 359.4,759.5" stroke="#c4ad94" stroke-width="1.1"/>
<path d="M259.5,668.9 l1.6,9.1" stroke="#fbf3e4" stroke-width="2.1"/>
<circle cx="264.8" cy="760.7" r="3.7" stroke="#b59e86" stroke-width="1.3" fill="#eedcc4"/>
<path d="M379.3,671.7 Q384.7,670.6 387.6,673" stroke="#c4ad94" stroke-width="1.4"/>
<path d="M277.7,629.6 Q276.9,634 277.1,643.6" stroke="#d3bda3" stroke-width="1.5"/>
<path d="M376.3,777.6 l8,2.8" stroke="#fbf3e4" stroke-width="2"/>
<path d="M231.2,768.4 Q230.4,772.9 229.8,779.3" stroke="#c4ad94" stroke-width="1.5"/>
<path d="M280.9,571.1 Q278.5,579.1 280.7,584.6" stroke="#d3bda3" stroke-width="1.4"/>
<path d="M365.7,797.1 Q372.9,797.2 376.7,796.1" stroke="#b59e86" stroke-width="1.3"/>
<path d="M366.8,822.2 Q374.4,821.3 382.3,819.9" stroke="#c4ad94" stroke-width="1.6"/>
<path d="M370.1,593.1 Q376,595.2 383.6,598.7" stroke="#c4ad94" stroke-width="1.7"/>
<path d="M359.4,646.4 Q361.8,643.9 367.8,646.3" stroke="#b59e86" stroke-width="1.3"/>
<circle cx="284.2" cy="813.1" r="3.6" stroke="#c4ad94" stroke-width="1.3" fill="#eedcc4"/>
<circle cx="236.5" cy="600.4" r="3.8" stroke="#c4ad94" stroke-width="1" fill="none"/>
<path d="M224.7,655.9 Q222.4,656.9 225,662" stroke="#b59e86" stroke-width="1.1"/>
<path d="M319.4,648.6 Q325.5,649 327.1,648.1" stroke="#d3bda3" stroke-width="1.7"/>
<path d="M252.6,667.6 Q250.5,671.8 251.5,679.5" stroke="#b59e86" stroke-width="0.8"/>
<path d="M337.8,719.3 Q337.1,725.5 339,729.3" stroke="#d3bda3" stroke-width="1.7"/>
<path d="M233.8,652.2 l1,9.8" stroke="#fbf3e4" stroke-width="1.9"/>
<path d="M256.3,673.2 Q256.8,680.6 256.1,684" stroke="#b59e86" stroke-width="1.2"/>
<path d="M287.5,746.8 l-0.5,6.9" stroke="#fbf3e4" stroke-width="1.8"/>
<circle cx="170.2" cy="692.5" r="4.1" stroke="#d3bda3" stroke-width="0.9" fill="#f8eedc"/>
<circle cx="234.2" cy="678.5" r="2.4" stroke="#b59e86" stroke-width="0.9" fill="#f8eedc"/>
<path d="M390.1,589.1 Q392.8,597.4 393.1,604.2" stroke="#b59e86" stroke-width="0.9"/>
<path d="M377,663.7 Q383,666.3 386.9,665.6" stroke="#b59e86" stroke-width="1.7"/>
<path d="M209.2,647.4 l3.8,4.3" stroke="#fbf3e4" stroke-width="1.3"/>
<circle cx="205.1" cy="710.7" r="3" stroke="#c4ad94" stroke-width="1" fill="#f8eedc"/>
<circle cx="220" cy="582" r="2.7" stroke="#b59e86" stroke-width="1.2" fill="none"/>
<path d="M177.5,608.7 Q183.5,609.1 191.5,606.1" stroke="#d3bda3" stroke-width="1.8"/>
<path d="M245,779.9 Q254.3,783.3 259.5,782.2" stroke="#b59e86" stroke-width="1.8"/>
<rect x="284.2" y="733.5" width="8.5" height="6.9" rx="1.5" stroke="#c4ad94" stroke-width="0.9" fill="#ead6bc" transform="rotate(90 284.2 733.5)"/>
<path d="M399.1,720.4 Q398.7,728.2 397.1,731.5" stroke="#c4ad94" stroke-width="1.5"/>
<circle cx="260.2" cy="715.1" r="3" stroke="#d3bda3" stroke-width="1.1" fill="#f8eedc"/>
<path d="M322.1,720.1 Q329,722.5 331,721.1" stroke="#d3bda3" stroke-width="1"/>
<circle cx="284.7" cy="758.8" r="3.8" stroke="#d3bda3" stroke-width="1.2" fill="#eedcc4"/>
<rect x="379.2" y="559.2" width="6.2" height="5.3" rx="1.5" stroke="#b59e86" stroke-width="0.9" fill="#e4ceb2" transform="rotate(90 379.2 559.2)"/>
<path d="M215.3,745.5 Q216.1,754.8 215,760.8" stroke="#b59e86" stroke-width="1"/>
<path d="M276.6,571.3 Q276.8,575.1 275.7,581.9" stroke="#b59e86" stroke-width="1.2"/>
<circle cx="286.1" cy="713.8" r="3.8" stroke="#b59e86" stroke-width="1.1" fill="none"/>
<path d="M399.1,808.4 Q397.8,809.7 397.7,816.9" stroke="#b59e86" stroke-width="1.6"/>
<path d="M177.4,726.9 l4.3,6.2" stroke="#fbf3e4" stroke-width="1.6"/>
<path d="M332.2,684.1 Q340.6,681.3 346.1,681.8" stroke="#b59e86" stroke-width="0.9"/>
<path d="M214.4,578.6 Q211.9,585.7 214.3,591.1" stroke="#b59e86" stroke-width="1.2"/>
<circle cx="252.5" cy="741.5" r="2.4" stroke="#d3bda3" stroke-width="0.9" fill="none"/>
<path d="M338.4,792.5 Q336.1,800.3 338.1,806.8" stroke="#c4ad94" stroke-width="1.4"/>
<path d="M342.5,730.5 Q349.4,732.4 355.5,730.2" stroke="#d3bda3" stroke-width="1.4"/>
<circle cx="324.8" cy="719" r="2.9" stroke="#c4ad94" stroke-width="0.8" fill="#f8eedc"/>
<circle cx="287.4" cy="805.3" r="2.4" stroke="#b59e86" stroke-width="1" fill="none"/>
<path d="M244.5,778.7 Q246.3,785.4 244.6,794.4" stroke="#d3bda3" stroke-width="1.3"/>
<path d="M254.4,617.6 Q264.2,616.7 268.5,618.5" stroke="#c4ad94" stroke-width="1.7"/>
<circle cx="375.6" cy="689.9" r="3.7" stroke="#b59e86" stroke-width="1.2" fill="none"/>
<rect x="226.5" y="751.5" width="8.6" height="7.8" rx="1.5" stroke="#b59e86" stroke-width="0.9" fill="#e4ceb2" transform="rotate(90 226.5 751.5)"/>
<path d="M292.2,568.3 Q299.7,565.3 303.5,567.6" stroke="#c4ad94" stroke-width="1.5"/>
<circle cx="195.3" cy="750.1" r="4.2" stroke="#d3bda3" stroke-width="1" fill="none"/>
<path d="M324.3,798.4 Q322.8,805.8 323,809.8" stroke="#d3bda3" stroke-width="1.6"/>
<path d="M329.9,635.1 l5.9,5.5" stroke="#fbf3e4" stroke-width="1.7"/>
<rect x="259.6" y="706.2" width="9.1" height="8.5" rx="1.5" stroke="#b59e86" stroke-width="0.9" fill="#e4ceb2" transform="rotate(0 259.6 706.2)"/>
<circle cx="283" cy="733" r="3.6" stroke="#d3bda3" stroke-width="1.3" fill="#eedcc4"/>
<path d="M239.7,789.2 Q241.2,796 240.2,801.8" stroke="#c4ad94" stroke-width="0.9"/>
<path d="M323.3,774.8 Q325.5,777.9 322,781.9" stroke="#b59e86" stroke-width="1"/>
<rect x="226.1" y="615.2" width="4.4" height="5.5" rx="1.5" stroke="#c4ad94" stroke-width="0.9" fill="#f6ead8" transform="rotate(0 226.1 615.2)"/>
<circle cx="312.5" cy="787.4" r="3.5" stroke="#c4ad94" stroke-width="1.1" fill="#eedcc4"/>
<path d="M228.5,695.3 Q229,699.2 230.1,700.4" stroke="#c4ad94" stroke-width="1.5"/>
<path d="M352.4,658.1 Q356.7,659.1 363.2,656.3" stroke="#b59e86" stroke-width="1.7"/>
<circle cx="367.7" cy="660.7" r="2.3" stroke="#c4ad94" stroke-width="1.2" fill="#eedcc4"/>
<path d="M188.4,798.8 Q190,800.6 190.3,807.5" stroke="#c4ad94" stroke-width="0.9"/>
<circle cx="289.7" cy="807.7" r="3.5" stroke="#d3bda3" stroke-width="0.8" fill="none"/>
<path d="M344.7,659.5 Q351.1,661.2 355.2,664.1" stroke="#b59e86" stroke-width="1.4"/>
<path d="M392.2,559.9 Q393.7,560.2 391.4,565.5" stroke="#d3bda3" stroke-width="1.6"/>
<rect x="398.2" y="556.1" width="11.9" height="8.8" rx="1.5" stroke="#b59e86" stroke-width="0.9" fill="#f1e0c8" transform="rotate(0 398.2 556.1)"/>
<path d="M367.2,669.7 Q369.8,671.5 367,679.2" stroke="#d3bda3" stroke-width="1.4"/>
<path d="M269,828.4 l-4.6,8.6" stroke="#fbf3e4" stroke-width="1.3"/>
<path d="M224.9,721.5 Q230.1,724.2 240.1,722.5" stroke="#c4ad94" stroke-width="1.3"/>
<path d="M203.6,773.3 Q202,775.4 204.6,780.5" stroke="#b59e86" stroke-width="1.1"/>
<path d="M294.2,798 Q301.7,799.3 303.5,803" stroke="#d3bda3" stroke-width="1.4"/>
<rect x="314.8" y="751.9" width="9.6" height="6.2" rx="1.5" stroke="#c4ad94" stroke-width="0.9" fill="#ead6bc" transform="rotate(22 314.8 751.9)"/>
<circle cx="349.8" cy="754.3" r="4.1" stroke="#c4ad94" stroke-width="0.8" fill="#eedcc4"/>
<circle cx="281.3" cy="586.4" r="4.2" stroke="#b59e86" stroke-width="0.8" fill="none"/>
<rect x="369.9" y="554.8" width="7" height="4.3" rx="1.5" stroke="#c4ad94" stroke-width="0.9" fill="#f1e0c8" transform="rotate(-13.6 369.9 554.8)"/>
<rect x="286" y="672" width="10" height="6.1" rx="1.5" stroke="#d3bda3" stroke-width="0.9" fill="#ead6bc" transform="rotate(6.6 286 672)"/>
<path d="M382.8,560.3 Q379.3,569.1 381.3,575.5" stroke="#b59e86" stroke-width="1"/>
<circle cx="320.1" cy="606.3" r="3.4" stroke="#c4ad94" stroke-width="1.1" fill="#f8eedc"/>
<circle cx="243.2" cy="644.9" r="3.7" stroke="#b59e86" stroke-width="1.2" fill="none"/>
<path d="M201.3,812.3 Q203.7,817.8 202.5,819.8" stroke="#c4ad94" stroke-width="1.4"/>
<circle cx="347.9" cy="643.8" r="1.9" stroke="#d3bda3" stroke-width="0.8" fill="#eedcc4"/>
<circle cx="372.2" cy="692.8" r="3.5" stroke="#b59e86" stroke-width="0.9" fill="none"/>
<rect x="174.3" y="747.1" width="6.7" height="3.2" rx="1.5" stroke="#c4ad94" stroke-width="0.9" fill="#f6ead8" transform="rotate(-1.2 174.3 747.1)"/>
<circle cx="187.7" cy="745.1" r="2.1" stroke="#d3bda3" stroke-width="0.9" fill="none"/>
<circle cx="251.4" cy="564.8" r="4" stroke="#b59e86" stroke-width="1.1" fill="none"/>
<path d="M374.8,809.8 Q379,808.4 379.9,809.9" stroke="#b59e86" stroke-width="1.4"/>
<path d="M315.5,569.8 Q316.3,577.2 314.9,582.4" stroke="#b59e86" stroke-width="1.5"/>
<path d="M281.3,605.9 Q282.1,614.6 283.2,618.3" stroke="#d3bda3" stroke-width="1.2"/>
<circle cx="341.9" cy="593.8" r="3.8" stroke="#d3bda3" stroke-width="0.9" fill="#f8eedc"/>
<rect x="240.2" y="823.8" width="9.6" height="8.7" rx="1.5" stroke="#b59e86" stroke-width="0.9" fill="#ead6bc" transform="rotate(0 240.2 823.8)"/>
<path d="M279.3,584.2 Q280.7,591.3 278.1,592.4" stroke="#d3bda3" stroke-width="1.5"/>
<path d="M220.8,700.6 Q223.1,700.9 229.3,700.6" stroke="#d3bda3" stroke-width="1"/>
<path d="M268.2,584.5 Q275.7,585.1 280.9,586.9" stroke="#c4ad94" stroke-width="1.1"/>
<circle cx="337.6" cy="771.3" r="3.3" stroke="#c4ad94" stroke-width="1.1" fill="#eedcc4"/>
<path d="M281,574.8 Q284.3,577.9 287.9,575.2" stroke="#d3bda3" stroke-width="0.9"/>
<path d="M397.2,791.3 Q395.1,794.4 394,796.3" stroke="#c4ad94" stroke-width="1.1"/>
<path d="M232.6,601.4 Q236.6,603.7 238.7,600.3" stroke="#c4ad94" stroke-width="1.2"/>
<circle cx="242" cy="663.3" r="3" stroke="#c4ad94" stroke-width="1.1" fill="#eedcc4"/>
<rect x="393.8" y="733.2" width="5.9" height="3.1" rx="1.5" stroke="#d3bda3" stroke-width="0.9" fill="#e4ceb2" transform="rotate(-2.9 393.8 733.2)"/>
<path d="M205.6,626.9 Q210.2,627 218.6,625.6" stroke="#b59e86" stroke-width="1.5"/>
<path d="M222.9,658 Q223.3,662 222.5,669.8" stroke="#c4ad94" stroke-width="1"/>
<path d="M283.6,573.9 Q287.4,575.1 290.2,574.2" stroke="#b59e86" stroke-width="1"/>
<path d="M360.6,606.8 Q358.4,615 359.9,620.7" stroke="#b59e86" stroke-width="1.5"/>
<rect x="232.3" y="788.6" width="4.5" height="6.7" rx="1.5" stroke="#c4ad94" stroke-width="0.9" fill="#f6ead8" transform="rotate(18.6 232.3 788.6)"/>
<path d="M271.3,611.2 Q268.1,616.2 270.6,620.9" stroke="#d3bda3" stroke-width="1.3"/>
<rect x="297.6" y="574.7" width="7.7" height="5.5" rx="1.5" stroke="#d3bda3" stroke-width="0.9" fill="#ead6bc" transform="rotate(26 297.6 574.7)"/>
<path d="M359.5,590 Q364.5,587.4 364.7,590.1" stroke="#b59e86" stroke-width="1.3"/>
<rect x="178.2" y="573.1" width="7.1" height="3.2" rx="1.5" stroke="#b59e86" stroke-width="0.9" fill="#e4ceb2" transform="rotate(90 178.2 573.1)"/>
<path d="M212.5,570.3 Q217.7,573.1 219.9,571.5" stroke="#d3bda3" stroke-width="1.1"/>
<path d="M306.5,677 Q304.3,682.8 305.3,689.2" stroke="#d3bda3" stroke-width="0.9"/>
<rect x="220.8" y="681.4" width="6.1" height="7.3" rx="1.5" stroke="#c4ad94" stroke-width="0.9" fill="#ead6bc" transform="rotate(29.3 220.8 681.4)"/>
<circle cx="296.3" cy="620.4" r="2.9" stroke="#d3bda3" stroke-width="1.1" fill="#eedcc4"/>
<path d="M365.3,628 Q363.9,632.8 363.4,641.7" stroke="#c4ad94" stroke-width="1.2"/>
<path d="M199.1,676.5 Q201.7,681.3 203.2,681.8" stroke="#d3bda3" stroke-width="1.8"/>
<circle cx="294.5" cy="760.9" r="4.1" stroke="#d3bda3" stroke-width="0.8" fill="#eedcc4"/>
<rect x="200.6" y="790.4" width="9.2" height="5.8" rx="1.5" stroke="#c4ad94" stroke-width="0.9" fill="#e4ceb2" transform="rotate(25.8 200.6 790.4)"/>
<path d="M377.8,704.2 Q379.6,707.3 379.4,712" stroke="#b59e86" stroke-width="0.9"/>
<path d="M227.4,622.9 Q231.4,619.9 239.7,622.4" stroke="#c4ad94" stroke-width="1.4"/>
<path d="M196.4,812.1 Q201,811.3 204.8,810.8" stroke="#c4ad94" stroke-width="1.6"/>
<rect x="325.7" y="799.7" width="10.3" height="8.7" rx="1.5" stroke="#d3bda3" stroke-width="0.9" fill="#f6ead8" transform="rotate(90 325.7 799.7)"/>
<path d="M386.5,771.1 Q393.9,772.8 397.5,771.8" stroke="#c4ad94" stroke-width="1.5"/>
<path d="M286.2,681.2 Q283.3,682.7 285.6,687" stroke="#d3bda3" stroke-width="0.9"/>
<path d="M207.6,680.7 Q211.7,682.8 215.1,682.3" stroke="#c4ad94" stroke-width="1.7"/>
<path d="M172.4,584.3 Q169.8,592.8 170.3,596.7" stroke="#b59e86" stroke-width="1.5"/>
<path d="M309.8,628.8 Q311.5,633.1 310.1,634.5" stroke="#d3bda3" stroke-width="0.8"/>
<path d="M323.5,712.7 Q326.7,716.6 326.4,721.6" stroke="#c4ad94" stroke-width="1.8"/>
<path d="M239.5,754.8 Q240,760.2 238.5,768.8" stroke="#c4ad94" stroke-width="1.3"/>
<path d="M355.7,798.7 Q353.3,801.9 356.3,808.8" stroke="#b59e86" stroke-width="1.1"/>
<path d="M359,735.3 l4.9,2.5" stroke="#fbf3e4" stroke-width="1.4"/>
<circle cx="264.7" cy="731.3" r="3.6" stroke="#c4ad94" stroke-width="0.9" fill="#f8eedc"/>
<rect x="230.8" y="571" width="11.8" height="6.6" rx="1.5" stroke="#c4ad94" stroke-width="0.9" fill="#ead6bc" transform="rotate(12.3 230.8 571)"/>
<path d="M389.4,823 Q390.1,829.9 387.7,836.3" stroke="#c4ad94" stroke-width="1.7"/>
<rect x="283.8" y="685.8" width="9.6" height="5.1" rx="1.5" stroke="#c4ad94" stroke-width="0.9" fill="#ead6bc" transform="rotate(-12.9 283.8 685.8)"/>
<path d="M311.4,648.2 Q303.1,651.7 298.4,654.9" stroke="#c4ad94" stroke-width="1.3"/>
<path d="M366.7,737.3 Q374.6,739.4 378.7,735.9" stroke="#c4ad94" stroke-width="1.5"/>
<path d="M293.1,684 Q296.1,681.3 299.2,683" stroke="#c4ad94" stroke-width="0.9"/>
<path d="M215.3,600.5 Q212.3,601.9 208.6,605.3" stroke="#c4ad94" stroke-width="1.7"/>
<rect x="260.7" y="775.1" width="6.5" height="3.1" rx="1.5" stroke="#b59e86" stroke-width="0.9" fill="#f1e0c8" transform="rotate(-29.9 260.7 775.1)"/>
<path d="M225.8,765.3 l2,8.2" stroke="#fbf3e4" stroke-width="1.8"/>
<path d="M201.2,639 Q210,640.2 214.1,638" stroke="#d3bda3" stroke-width="1.7"/>
<circle cx="356.3" cy="741.7" r="4.1" stroke="#c4ad94" stroke-width="1.1" fill="#f8eedc"/>
<path d="M388.2,719.8 Q388.1,724 387.6,729.5" stroke="#d3bda3" stroke-width="1.1"/>
<path d="M224.5,639.3 l-7.2,2.4" stroke="#fbf3e4" stroke-width="1.7"/>
<path d="M265.3,818.1 Q267.4,822.5 266.6,826.1" stroke="#d3bda3" stroke-width="1.7"/>
<path d="M204.9,588.9 Q205.1,592.9 206.2,594" stroke="#c4ad94" stroke-width="1.5"/>
<path d="M191.6,650.1 Q192.3,649.7 188.2,654.3" stroke="#c4ad94" stroke-width="0.8"/>
<path d="M172.5,667.3 Q175,673.3 172.8,677.9" stroke="#c4ad94" stroke-width="1.7"/>
<path d="M206.8,718.6 Q204.9,719.6 205.8,725" stroke="#b59e86" stroke-width="0.9"/>
<path d="M387.9,615.9 Q386.1,619 388.8,622.6" stroke="#b59e86" stroke-width="1.4"/>
<path d="M287.2,811.2 Q285.6,815.1 286.2,821" stroke="#b59e86" stroke-width="1"/>
<path d="M330.3,753.2 Q327.8,757.9 329,766.7" stroke="#b59e86" stroke-width="1.1"/>
<rect x="323.2" y="579.3" width="5.3" height="7.8" rx="1.5" stroke="#d3bda3" stroke-width="0.9" fill="#f6ead8" transform="rotate(0 323.2 579.3)"/>
<rect x="267.4" y="815.6" width="11" height="4.3" rx="1.5" stroke="#d3bda3" stroke-width="0.9" fill="#ead6bc" transform="rotate(90 267.4 815.6)"/>
<path d="M366.3,624 Q371.8,623.7 379.2,627.3" stroke="#b59e86" stroke-width="1.8"/>
<rect x="265.2" y="811.9" width="6.5" height="5.6" rx="1.5" stroke="#b59e86" stroke-width="0.9" fill="#ead6bc" transform="rotate(0 265.2 811.9)"/>
<path d="M334.5,818.7 Q332.7,821.1 334,823.8" stroke="#c4ad94" stroke-width="1.4"/>
<path d="M344.7,583.2 l-3.3,7.1" stroke="#fbf3e4" stroke-width="1.7"/>
<path d="M383.8,767.8 Q383.5,770.9 384.9,774.5" stroke="#b59e86" stroke-width="1"/>
<circle cx="288.9" cy="762.6" r="3.2" stroke="#b59e86" stroke-width="1.1" fill="#f8eedc"/>
<path d="M205.2,704.2 Q208.9,713.2 209.9,718.9" stroke="#d3bda3" stroke-width="1.3"/>
<path d="M196.8,795.2 Q203.3,794.6 212.5,796" stroke="#b59e86" stroke-width="1.5"/>
<rect x="353.5" y="571.7" width="8.5" height="7.3" rx="1.5" stroke="#b59e86" stroke-width="0.9" fill="#ead6bc" transform="rotate(-5.4 353.5 571.7)"/>
<rect x="369.2" y="631.9" width="7.1" height="4.5" rx="1.5" stroke="#d3bda3" stroke-width="0.9" fill="#f6ead8" transform="rotate(90 369.2 631.9)"/>
<circle cx="258.5" cy="670.2" r="4.2" stroke="#d3bda3" stroke-width="1" fill="none"/>
<path d="M362,578.2 Q359,586 360.7,589.2" stroke="#c4ad94" stroke-width="0.9"/>
<path d="M184.4,631.6 Q176.5,634.6 171.4,636.2" stroke="#d3bda3" stroke-width="1.5"/>
<path d="M311.6,578.5 Q314.6,582.7 311.7,584.3" stroke="#d3bda3" stroke-width="1.6"/>
<path d="M187,721.4 Q192.8,721.8 197.6,722" stroke="#b59e86" stroke-width="1.3"/>
<path d="M398.2,696 Q399.5,700.1 398.6,702.3" stroke="#c4ad94" stroke-width="1.8"/>
<path d="M225.3,648 Q227.1,646.1 230.8,648" stroke="#b59e86" stroke-width="1.7"/>
<rect x="237.6" y="604.1" width="9.7" height="8.4" rx="1.5" stroke="#c4ad94" stroke-width="0.9" fill="#f1e0c8" transform="rotate(90 237.6 604.1)"/>
<path d="M285.1,760.2 Q292.5,760.1 296.8,762.2" stroke="#c4ad94" stroke-width="1.2"/>
<circle cx="300.4" cy="592.6" r="2.4" stroke="#d3bda3" stroke-width="0.9" fill="#f8eedc"/>
<path d="M196.2,635.8 Q200.2,638.5 204,637" stroke="#c4ad94" stroke-width="1.2"/>
<path d="M380.9,678.4 Q379.2,683.5 382.2,685.5" stroke="#d3bda3" stroke-width="1.3"/>
<rect x="286.8" y="699.8" width="8.1" height="5.3" rx="1.5" stroke="#c4ad94" stroke-width="0.9" fill="#e4ceb2" transform="rotate(-34.2 286.8 699.8)"/>
<path d="M212.2,643.3 l3,4.7" stroke="#fbf3e4" stroke-width="1.6"/>
<circle cx="339.9" cy="622.1" r="2.3" stroke="#b59e86" stroke-width="0.8" fill="#f8eedc"/>
<path d="M262.4,718.4 Q260,723.6 256.5,727.8" stroke="#c4ad94" stroke-width="1.5"/>
<rect x="277.4" y="721.9" width="6.5" height="3.7" rx="1.5" stroke="#c4ad94" stroke-width="0.9" fill="#ead6bc" transform="rotate(-22.6 277.4 721.9)"/>
<circle cx="221.9" cy="718.9" r="4" stroke="#c4ad94" stroke-width="1.3" fill="#f8eedc"/>
<path d="M190.3,623.5 Q191.2,628 191.2,635.4" stroke="#c4ad94" stroke-width="1"/>
<path d="M208.5,581.3 Q211.7,580.4 215.3,580" stroke="#b59e86" stroke-width="1.7"/>
<path d="M398.6,659.4 Q402.8,657.4 410,657.3" stroke="#d3bda3" stroke-width="1.7"/>
<path d="M245.8,753.7 Q250.5,754 257.2,756.6" stroke="#d3bda3" stroke-width="1.6"/>
<rect x="180" y="698.3" width="9.9" height="8.4" rx="1.5" stroke="#c4ad94" stroke-width="0.9" fill="#ead6bc" transform="rotate(0 180 698.3)"/>
<path d="M210.4,788.8 Q206.4,788.3 198.5,788.2" stroke="#d3bda3" stroke-width="0.9"/>
<path d="M399.8,821.2 Q405.8,827.9 411.1,831.6" stroke="#d3bda3" stroke-width="1.7"/>
<rect x="184.1" y="630.3" width="11.2" height="3.5" rx="1.5" stroke="#d3bda3" stroke-width="0.9" fill="#ead6bc" transform="rotate(0 184.1 630.3)"/>
<circle cx="258.8" cy="658.1" r="1.9" stroke="#b59e86" stroke-width="1" fill="#f8eedc"/>
<circle cx="236.4" cy="568" r="2.4" stroke="#d3bda3" stroke-width="1" fill="#eedcc4"/>
<path d="M326.4,797.6 Q328.2,798.2 333.3,798.7" stroke="#c4ad94" stroke-width="1.2"/>
<path d="M347.4,773.3 l-4.9,4.5" stroke="#fbf3e4" stroke-width="2.1"/>
<path d="M382.7,777.2 Q382.5,777.6 383.8,782.4" stroke="#d3bda3" stroke-width="1.2"/>
<circle cx="386.9" cy="632.3" r="2.7" stroke="#d3bda3" stroke-width="1" fill="none"/>
<path d="M232.1,624.9 Q232.1,629.8 231.3,632.1" stroke="#c4ad94" stroke-width="1.6"/>
<path d="M384.7,583.4 Q384.7,588.2 384.8,598.4" stroke="#d3bda3" stroke-width="1.2"/>
<path d="M319.1,679.2 Q318,684.3 317,686" stroke="#d3bda3" stroke-width="1.1"/>
<rect x="213.2" y="768.1" width="9.5" height="7.1" rx="1.5" stroke="#d3bda3" stroke-width="0.9" fill="#f1e0c8" transform="rotate(-32.7 213.2 768.1)"/>
<path d="M232,674.1 Q231.1,678.2 231.4,683.6" stroke="#c4ad94" stroke-width="0.9"/>
<path d="M349.3,686.8 l-6.4,2.5" stroke="#fbf3e4" stroke-width="1.3"/>
<circle cx="278.5" cy="756.6" r="2.7" stroke="#b59e86" stroke-width="0.9" fill="none"/>
<circle cx="356.2" cy="742.8" r="2.4" stroke="#c4ad94" stroke-width="1.2" fill="#eedcc4"/>
<circle cx="270.2" cy="774.6" r="2.3" stroke="#b59e86" stroke-width="0.8" fill="none"/>
<path d="M325.8,579.4 Q323.2,585.9 326.6,587.9" stroke="#c4ad94" stroke-width="1.2"/>
<circle cx="276.8" cy="801.5" r="3.6" stroke="#d3bda3" stroke-width="1.3" fill="#f8eedc"/>
<rect x="305.4" y="748.7" width="7.9" height="3.8" rx="1.5" stroke="#b59e86" stroke-width="0.9" fill="#e4ceb2" transform="rotate(0 305.4 748.7)"/>
<circle cx="350.5" cy="817.6" r="2.4" stroke="#b59e86" stroke-width="0.8" fill="#eedcc4"/>
<path d="M288.7,808 Q298,804.8 302.8,805.1" stroke="#d3bda3" stroke-width="1.4"/>
<path d="M391.9,817.9 Q393.2,821.9 389.6,831.4" stroke="#d3bda3" stroke-width="1.2"/>
<rect x="219.3" y="756.9" width="11.9" height="4.1" rx="1.5" stroke="#b59e86" stroke-width="0.9" fill="#e4ceb2" transform="rotate(-12.4 219.3 756.9)"/>
<path d="M340.8,635.1 Q344.3,640 342.4,643.4" stroke="#d3bda3" stroke-width="1.8"/>
<circle cx="345.4" cy="653.5" r="2.7" stroke="#d3bda3" stroke-width="0.8" fill="none"/>
<circle cx="261.9" cy="715.9" r="1.9" stroke="#b59e86" stroke-width="1" fill="#f8eedc"/>
<path d="M315.7,691.5 Q320.9,690 325.9,690.7" stroke="#c4ad94" stroke-width="1.8"/>
<path d="M256.9,604 Q260.4,605.4 258.1,611.5" stroke="#b59e86" stroke-width="1"/>
<circle cx="364.9" cy="765.2" r="3.7" stroke="#b59e86" stroke-width="1.3" fill="#eedcc4"/>
<path d="M383.6,642.8 Q381.6,645.5 376,650" stroke="#b59e86" stroke-width="1.2"/>
<path d="M214.6,813.6 Q217.8,820.8 216.2,826.1" stroke="#c4ad94" stroke-width="1.5"/>
<circle cx="265.2" cy="578.7" r="3.9" stroke="#d3bda3" stroke-width="1.1" fill="#eedcc4"/>
<path d="M319.6,752.1 Q322.3,760.4 322.7,767.5" stroke="#d3bda3" stroke-width="1.5"/>
<rect x="275.1" y="698.1" width="11" height="5.4" rx="1.5" stroke="#d3bda3" stroke-width="0.9" fill="#ead6bc" transform="rotate(90 275.1 698.1)"/>
<circle cx="215.7" cy="621.2" r="4.1" stroke="#b59e86" stroke-width="0.9" fill="none"/>
<path d="M195.2,590.5 Q200.9,590.6 203.5,591.1" stroke="#d3bda3" stroke-width="0.9"/>
<path d="M290.1,738.2 Q290.2,744.8 290.9,748.6" stroke="#b59e86" stroke-width="1.8"/>
<path d="M311.8,746.4 Q319.1,745.3 323.2,747.7" stroke="#d3bda3" stroke-width="1.3"/>
<path d="M308.3,654.4 Q305.8,656.6 308.8,660.3" stroke="#c4ad94" stroke-width="1"/>
<path d="M207.5,707.6 Q205.2,714.7 208,722.8" stroke="#d3bda3" stroke-width="1.8"/>
<circle cx="304.7" cy="594.6" r="3.1" stroke="#b59e86" stroke-width="1.3" fill="none"/>
<rect x="298.5" y="722" width="7.8" height="7.8" rx="1.5" stroke="#c4ad94" stroke-width="0.9" fill="#f6ead8" transform="rotate(0 298.5 722)"/>
<path d="M209.4,669.7 l-2.4,5.5" stroke="#fbf3e4" stroke-width="2.1"/>
<path d="M353.7,819.4 Q361.7,821.1 367.9,820.1" stroke="#b59e86" stroke-width="1.1"/>
<circle cx="367" cy="580.7" r="4.2" stroke="#d3bda3" stroke-width="1.2" fill="#eedcc4"/>
<path d="M197.6,716.6 Q197.5,722.8 196,725.7" stroke="#b59e86" stroke-width="1.1"/>
<rect x="355.6" y="757.9" width="11.9" height="4.6" rx="1.5" stroke="#c4ad94" stroke-width="0.9" fill="#f1e0c8" transform="rotate(90 355.6 757.9)"/>
<path d="M330.6,640.7 Q335.3,643.9 337.6,643.2" stroke="#b59e86" stroke-width="1.2"/>
<circle cx="383.4" cy="594.3" r="3.2" stroke="#c4ad94" stroke-width="0.8" fill="none"/>
<circle cx="302.3" cy="618.5" r="2.2" stroke="#b59e86" stroke-width="1.3" fill="none"/>
<circle cx="308.9" cy="609.6" r="2.5" stroke="#d3bda3" stroke-width="1" fill="#eedcc4"/>
<circle cx="216.4" cy="760.9" r="3.2" stroke="#c4ad94" stroke-width="1.1" fill="#f8eedc"/>
<path d="M395.5,759.8 Q397.7,760.9 405.2,758.9" stroke="#c4ad94" stroke-width="1.5"/>
<path d="M181.6,643.2 Q188.5,642.4 192.2,644" stroke="#b59e86" stroke-width="1.1"/>
<path d="M344.1,789.5 Q349.6,792.2 351.5,790.4" stroke="#c4ad94" stroke-width="1.8"/>
<rect x="253.9" y="756.8" width="8.2" height="8.3" rx="1.5" stroke="#d3bda3" stroke-width="0.9" fill="#f1e0c8" transform="rotate(0 253.9 756.8)"/>
<path d="M298.7,619.3 Q304.2,621.4 308.9,619.7" stroke="#b59e86" stroke-width="1"/>
<path d="M218.6,617.1 Q218.8,622.6 216.7,626.7" stroke="#c4ad94" stroke-width="1.6"/>
<path d="M256.9,616.1 Q261,618.1 263.6,616.3" stroke="#b59e86" stroke-width="1.3"/>
<path d="M258.7,778.7 Q257.8,780.3 257.8,787" stroke="#b59e86" stroke-width="1.1"/>
<rect x="338.7" y="557.8" width="8.2" height="5.5" rx="1.5" stroke="#b59e86" stroke-width="0.9" fill="#ead6bc" transform="rotate(90 338.7 557.8)"/>
<path d="M245.4,608.7 l-9.4,2.4" stroke="#fbf3e4" stroke-width="1.8"/>
<path d="M375.7,744.7 Q381.2,752.6 384.4,755.1" stroke="#b59e86" stroke-width="1.3"/>
<circle cx="373.4" cy="671.9" r="2.4" stroke="#d3bda3" stroke-width="1.1" fill="#f8eedc"/>
<path d="M384.3,735.9 Q379.2,735.6 371.4,741.1" stroke="#d3bda3" stroke-width="1.5"/>
<circle cx="307.2" cy="638.6" r="3.7" stroke="#d3bda3" stroke-width="1.1" fill="none"/>
<circle cx="256" cy="807.7" r="3.1" stroke="#d3bda3" stroke-width="0.8" fill="none"/>
<circle cx="279.6" cy="774.5" r="3.2" stroke="#b59e86" stroke-width="1.3" fill="none"/>
<circle cx="341.4" cy="718.6" r="4.1" stroke="#b59e86" stroke-width="1.1" fill="#f8eedc"/>
<circle cx="352.2" cy="608.4" r="1.9" stroke="#b59e86" stroke-width="1.1" fill="#f8eedc"/>
<path d="M342.2,691.9 l5.3,0.7" stroke="#fbf3e4" stroke-width="1.7"/>
<path d="M237.3,633.8 Q244.7,634.5 249,633.7" stroke="#d3bda3" stroke-width="1.5"/>
<circle cx="238.3" cy="804.3" r="2.6" stroke="#c4ad94" stroke-width="1.1" fill="#f8eedc"/>
<circle cx="217.5" cy="634.6" r="1.9" stroke="#d3bda3" stroke-width="1.2" fill="none"/>
<path d="M280.5,780.2 Q291,780.9 295.9,779.9" stroke="#d3bda3" stroke-width="0.8"/>
<path d="M345.2,758.6 Q352.9,759.2 361.1,757.3" stroke="#b59e86" stroke-width="1.5"/>
<rect x="290.3" y="672.4" width="4.7" height="4" rx="1.5" stroke="#c4ad94" stroke-width="0.9" fill="#ead6bc" transform="rotate(0 290.3 672.4)"/>
<path d="M323.8,753.8 Q326.2,757.4 325.2,761" stroke="#d3bda3" stroke-width="1"/>
<path d="M336.9,719.4 Q332.3,725.2 326.7,730.7" stroke="#d3bda3" stroke-width="1.4"/>
<circle cx="392.4" cy="785.6" r="2.4" stroke="#b59e86" stroke-width="1.3" fill="#f8eedc"/>
<path d="M225.9,819.8 l2.8,6.1" stroke="#fbf3e4" stroke-width="1.9"/>
<path d="M305.9,594.9 Q307.6,592.4 312.1,593.9" stroke="#d3bda3" stroke-width="1.2"/>
<path d="M388.9,786.8 Q396.1,786.7 397.3,787.4" stroke="#c4ad94" stroke-width="1.4"/>
</g>
<polygon points="165,568 178,555 224,555 226,584 176,588 165,594" fill="#fbf6ee"/>
<polygon points="169,590 176,586 243,583 244,606 238,618 182,622 170,612" fill="#f3e5d2" stroke="#c9b29a" stroke-width="1"/>
<polygon points="176,598 238,594 240,615 184,619" fill="#ead6be"/>
<polygon points="171,598 180,598 180,618 173,612" fill="#b9a28b"/>
<polygon points="179,556 184,556 186,572 188,588 177,588 178,572" fill="#eedcc6" stroke="#c9b29a" stroke-width="1"/>
<polygon points="198,572 201,568 205,568 208,572 208,588 198,588" fill="#e9d5bd" stroke="#c9b29a" stroke-width="1"/>
<polygon points="217,574 224,574 225,588 216,588" fill="#eedcc6" stroke="#c9b29a" stroke-width="1"/>
<polygon points="205,556 214,556 216,576 208,580" fill="#eedcc6"/>
<polyline points="176,590 242,587" fill="none" stroke="#bfa890" stroke-width="1.2" stroke-linecap="round" stroke-linejoin="round"/>
<polygon points="226,556 300,556 296,592 250,598 230,586" fill="#e6d1b8"/>
<polygon points="240,560 282,558 286,578 250,584" fill="#d9c2a8"/>
<polygon points="262,556 296,556 294,574 270,572" fill="#f3e8da"/>
<polygon points="232,612 262,610 276,624 270,634 240,632" fill="#ddc5ab" stroke="#c9b29a" stroke-width="1"/>
<polygon points="250,626 296,640 296,690 262,660" fill="#e4cfb8"/>
<circle cx="262" cy="643" r="5" fill="#f3e6d4" stroke="#c9b29a" stroke-width="1.2"/>
<circle cx="257" cy="669" r="6" fill="#f3e6d4" stroke="#c9b29a" stroke-width="1.2"/>
<circle cx="282" cy="651" r="4" fill="#f3e6d4" stroke="#c9b29a" stroke-width="1.2"/>
<polygon points="334,568 400,562 400,636 350,642 334,622" fill="#e8d2b8"/>
<polygon points="334,572 352,570 356,630 338,626" fill="#dfc8ad" stroke="#c9b29a" stroke-width="1"/>
<circle cx="376" cy="600" r="26" fill="#dcc3a8" stroke="#c4ab91" stroke-width="1"/>
<circle cx="378" cy="601" r="21" fill="#ecd8c0" stroke="#bfa58a" stroke-width="2.2"/>
<polyline points="360,602 396,596" fill="none" stroke="#c4ab91" stroke-width="1.8" stroke-linecap="round" stroke-linejoin="round"/>
<polygon points="350,640 400,636 400,690 360,690" fill="#e6d2bc"/>
<path d="M297,684 L297,586 Q297,566 313,565 Q330,566 330,586 L331,652" fill="none" stroke="#bfa88f" stroke-width="5.4"/>
<path d="M297,684 L297,586 Q297,566 313,565 Q330,566 330,586 L331,652" fill="none" stroke="#f3e5d1" stroke-width="3.2"/>
<circle cx="313" cy="583" r="14" fill="#f6ead6" stroke="#c9b29a" stroke-width="1.2"/>
<circle cx="313.5" cy="584" r="6" fill="none" stroke="#c9b29a" stroke-width="1.2"/>
<rect x="306" y="606" width="18" height="10" rx="0" fill="#e0cab0"/>
<rect x="309" y="609" width="12" height="4" rx="0" fill="#b9a28b"/>
<circle cx="349" cy="647" r="15" fill="#f4e6d0" stroke="#c9b29a" stroke-width="1.4"/>
<circle cx="349" cy="647" r="8.5" fill="none" stroke="#c9b29a" stroke-width="1.4"/>
<circle cx="349" cy="647" r="4" fill="none" stroke="#c9b29a" stroke-width="1"/>
<circle cx="315" cy="674.5" r="17.5" fill="#efdcc6" stroke="#b9a28b" stroke-width="1.6"/>
<circle cx="315" cy="674.5" r="12.5" fill="none" stroke="#bfa890" stroke-width="2.4"/>
<circle cx="315" cy="674.5" r="6.5" fill="#f6ead6" stroke="#b9a28b" stroke-width="1.2"/>
<circle cx="315" cy="674.5" r="2.5" fill="#e6d2ba"/>
<circle cx="210.5" cy="668.2" r="42.5" fill="#f1e1cc" stroke="#c9b29a" stroke-width="1.2"/>
<circle cx="210.5" cy="668.2" r="38.5" fill="#f6ead8" stroke="#d9c5ad" stroke-width="1"/>
<circle cx="212" cy="669.5" r="31" fill="#f5dfcb"/>
<circle cx="216" cy="672" r="20" fill="#faeee0"/>
<circle cx="213" cy="670" r="6.5" fill="#f6ead6" stroke="#bfa890" stroke-width="1.2"/>
<circle cx="213" cy="670" r="3" fill="none" stroke="#c9b29a" stroke-width="1"/>
<circle cx="203" cy="637" r="3.2" fill="#f3e6d4" stroke="#bfa890" stroke-width="1.1"/>
<circle cx="233" cy="646" r="3.2" fill="#f3e6d4" stroke="#bfa890" stroke-width="1.1"/>
<circle cx="241" cy="676" r="3.2" fill="#f3e6d4" stroke="#bfa890" stroke-width="1.1"/>
<circle cx="222" cy="700" r="3.2" fill="#f3e6d4" stroke="#bfa890" stroke-width="1.1"/>
<circle cx="190" cy="695" r="3.2" fill="#f3e6d4" stroke="#bfa890" stroke-width="1.1"/>
<circle cx="180" cy="660" r="3.2" fill="#f3e6d4" stroke="#bfa890" stroke-width="1.1"/>
<path d="M182,712 L171,676 Q164,640 190,629.5 Q216,621 242,641 L296,679" fill="none" stroke="#151515" stroke-width="2.8"/>
<polyline points="316,695.5 342,711.5" fill="none" stroke="#151515" stroke-width="2.6" stroke-linecap="round" stroke-linejoin="round"/>
<polyline points="387.5,690 388,829" fill="none" stroke="#c9b29a" stroke-width="10" stroke-linecap="round" stroke-linejoin="round"/>
<polyline points="387.5,690 388,829" fill="none" stroke="#f3e5d1" stroke-width="7.6" stroke-linecap="round" stroke-linejoin="round"/>
<polyline points="342,713 400,705" fill="none" stroke="#cbb49b" stroke-width="4" stroke-linecap="round" stroke-linejoin="round"/>
<polyline points="342,713 400,705" fill="none" stroke="#f3e5d1" stroke-width="2" stroke-linecap="round" stroke-linejoin="round"/>
<polyline points="350,700 400,668" fill="none" stroke="#e0ccb4" stroke-width="3" stroke-linecap="round" stroke-linejoin="round"/>
<polyline points="356,722 400,728" fill="none" stroke="#d6c0a6" stroke-width="2" stroke-linecap="round" stroke-linejoin="round"/>
<circle cx="333.2" cy="766.7" r="52" fill="#f7ead4" stroke="#b9a28c" stroke-width="1.6"/>
<circle cx="333.2" cy="766.7" r="48.5" fill="none" stroke="#c9b39c" stroke-width="1"/>
<circle cx="333.2" cy="766.7" r="41" fill="none" stroke="#dccab2" stroke-width="1"/>
<circle cx="333.2" cy="766.7" r="37" fill="#b7a08b"/>
<circle cx="333.2" cy="766.7" r="34" fill="#f3e2cc"/>
<path d="M313,744 Q322,732 336,733 L338,748 L322,760 L308,782 Q304,760 313,744Z" fill="#c2a994"/>
<path d="M364,752 Q368,772 361,786 Q350,800 330,801 L314,797 Q344,792 356,778Z" fill="#bfa792"/>
<circle cx="330" cy="763.5" r="14.5" fill="#eed8c2" stroke="#cdb69e" stroke-width="1"/>
<circle cx="329" cy="763" r="9.5" fill="#fbf6ee"/>
<path d="M316,795 Q330,782 356,778 L360,784 Q350,798 330,800Z" fill="#f8eedc" stroke="#cdb69e" stroke-width="0.8"/>
<polygon points="386,803 400,801 400,817 390,817" fill="#a8927e"/>
<polygon points="210,810 240,804 262,814 300,818 300,829 210,829" fill="#f5e7d2"/>
<polyline points="262,806 262,829" fill="none" stroke="#d0baa0" stroke-width="2" stroke-linecap="round" stroke-linejoin="round"/>
<polyline points="268,806 300,808" fill="none" stroke="#bfa890" stroke-width="3" stroke-linecap="round" stroke-linejoin="round"/>
<polygon points="206,714 236,702 250,706 262,740 270,760 264,802 240,808 220,790 214,740" fill="#c0c5d9"/>
<polygon points="220,716 244,706 256,736 240,744" fill="#9097b0"/>
<circle cx="244" cy="710" r="4.4" fill="#e2e4f0" stroke="#8a8fa8" stroke-width="1.2"/>
<circle cx="226" cy="733" r="4" fill="#e2e4f0" stroke="#8a8fa8" stroke-width="1.2"/>
<circle cx="263" cy="746" r="4" fill="#e2e4f0" stroke="#8a8fa8" stroke-width="1.2"/>
<circle cx="218" cy="722" r="3.5" fill="#e2e4f0" stroke="#8a8fa8" stroke-width="1.2"/>
<circle cx="246" cy="803" r="4.2" fill="#e2e4f0" stroke="#8a8fa8" stroke-width="1.2"/>
<ellipse cx="214" cy="774.5" rx="41" ry="35.5" fill="#8d93ab"/>
<ellipse cx="214" cy="774.5" rx="38" ry="33" fill="#c2c7db"/>
<polygon points="172,760 163,756 166,764 174,768" fill="#a0a6bc"/>
<circle cx="216" cy="776.5" r="29" fill="#e8eaf6"/>
<circle cx="216.4" cy="777" r="24" fill="#3a3c46"/>
<circle cx="216.4" cy="777" r="24" fill="none" stroke="#e8eaf6" stroke-width="5" stroke-dasharray="2.2 3.4"/>
<ellipse cx="214" cy="774.5" rx="35" ry="30.5" fill="none" stroke="#3c3f4c" stroke-width="4" stroke-dasharray="3 4.5"/>
<rect x="251.5" y="753.5" width="19" height="11.5" rx="4" fill="#1d1d1d"/>
<rect x="251.5" y="764" width="17.5" height="20" rx="4" fill="#d3d6e5"/>
<rect x="251.5" y="770" width="17.5" height="3" rx="0" fill="#a9aec4"/>
<circle cx="257.3" cy="790.8" r="5.2" fill="#1f1f26"/>
<circle cx="257.3" cy="790.8" r="2.8" fill="#d0d3e0"/>
<polyline points="174,690 199.5,775" fill="none" stroke="#151515" stroke-width="3.6" stroke-linecap="round" stroke-linejoin="round"/>
<path d="M256,708 Q252,716 252,724 L234.5,770" fill="none" stroke="#151515" stroke-width="4"/>
<polyline points="291,727 287,740" fill="none" stroke="#151515" stroke-width="3" stroke-linecap="round" stroke-linejoin="round"/>
<circle cx="216.4" cy="777.2" r="17.2" fill="#171717"/>
<circle cx="216.4" cy="777.2" r="13.5" fill="#333"/>
<circle cx="216.8" cy="777.4" r="6.5" fill="#c4c6d0"/>
<circle cx="216.8" cy="777.4" r="3" fill="#8a8a92"/>
<circle cx="272.9" cy="719.8" r="19.8" fill="#151515"/>
<circle cx="272.9" cy="719.8" r="16" fill="#2e2e2e"/>
<circle cx="272.9" cy="719.8" r="11.5" fill="#222" stroke="#3a3a3a" stroke-width="1"/>
<circle cx="273.1" cy="720" r="6.8" fill="#c9c9d4"/>
<circle cx="273.1" cy="720" r="3.2" fill="#8a8a92"/>
</g>
<polygon points="250.1,865.5 269.5,877.1 285.9,904.2 330.4,927.4 365.3,966.1 366.2,973.8 291.7,981.6 289.8,977.7 243.4,983.5 233.7,989.3 226.9,988.4 229.8,976.7 247.2,955.5 235.6,933.2 227.9,952.6 209.5,942.9 208.5,935.1 214.3,913.9 235.6,886.8" fill="#8b8b99"/>
<polygon points="214.3,913.9 235.6,928 235.6,933.2 227.9,952.6 209.5,942.9 208.5,935.1" fill="#6e6e7b"/>
<polygon points="229.8,976.7 289.8,970 291.7,974 366.2,967 366.2,973.8 291.7,981.6 289.8,977.7 243.4,983.5 233.7,989.3 226.9,988.4" fill="#565661"/>
<polygon points="330.4,927.4 365.3,966.1 366.2,970 342,968 336,950" fill="#7f7f8d"/>
<ellipse cx="270" cy="915" rx="6.5" ry="5.5" fill="#6e6e7b" stroke="#5a5a66" stroke-width="1"/>
<ellipse cx="324" cy="960" rx="6" ry="5.5" fill="#7a7a88" stroke="#5e5e6a" stroke-width="1"/>
<ellipse cx="348" cy="952" rx="6.5" ry="7" fill="#6a6a76" stroke="#9a9aa8" stroke-width="1.2"/>
<ellipse cx="253" cy="956" rx="6.5" ry="6" fill="#7c7c8a" stroke="#5e5e6a" stroke-width="1"/>
<ellipse cx="228" cy="893" rx="4" ry="8" fill="#737380"/>
<g transform="translate(72.1,901.4) rotate(26.5)"><rect x="-19" y="-4.6" width="14" height="9.2" rx="2.5" fill="#8f8f9d"/><rect x="-17" y="-4.6" width="3" height="9.2" fill="#777784"/><rect x="-6.5" y="-6" width="5.5" height="12" rx="1.5" fill="#6b6b78"/><rect x="-1.5" y="-4.6" width="4" height="9.2" fill="#9a9aa8"/><rect x="2" y="-7" width="6.5" height="14" rx="2" fill="#737380"/><rect x="8" y="-5.6" width="3" height="11.2" fill="#5a5a66"/><rect x="10" y="-7" width="9" height="14" rx="3" fill="#858593"/><rect x="13" y="-7" width="2.5" height="14" fill="#62626e"/></g>
<g transform="translate(149.1,897.8) rotate(34)"><rect x="-16.5" y="-8.3" width="12.5" height="16.6" rx="3" fill="#858593"/><rect x="-14" y="-8.3" width="2.5" height="16.6" fill="#6a6a76"/><rect x="-5.5" y="-10.2" width="8.5" height="20.4" rx="2" fill="#6e6e7b"/><rect x="-3" y="-10.2" width="3" height="20.4" fill="#8d8d9b"/><rect x="2.5" y="-6.8" width="13" height="13.6" rx="3" fill="#7f7f8d"/><ellipse cx="14" cy="0" rx="3.2" ry="5.4" fill="#a3a3b0"/><ellipse cx="14.2" cy="0" rx="1.8" ry="3.4" fill="#62626e"/></g>
<polygon points="79,945.8 92.5,942.2 96,952.5 83,956.5" fill="#8f8f9d"/>
<polyline points="80.5,950.2 94,946.6" fill="none" stroke="#737380" stroke-width="1.2" stroke-linecap="round" stroke-linejoin="round"/>
<polygon points="81.8,955 98,950.8 100.6,960 84.6,964.6" fill="#6e6e7b"/>
<polygon points="83.2,963.2 97.8,959.2 105.2,964 108.4,975.5 105.2,982 92.1,983.6 88.9,973.8 85.6,970.6" fill="#80808e"/>
<polygon points="92,966 99,964 103,973 97,975 95,970" fill="#9494a2"/>
<polygon points="73.4,976.3 88.9,971.4 93.8,986.9 79.1,993.4" fill="#8a8a98"/>
<ellipse cx="76.4" cy="985" rx="3.8" ry="9.2" fill="#6a6a76" transform="rotate(-17 76.4 985)"/>
<ellipse cx="76.7" cy="985" rx="2.2" ry="6.3" fill="#8f8f9d" transform="rotate(-17 76.7 985)"/>
<path d="M117,957 L119.5,956 L125,976 L122.5,977.5Z" fill="#6e6e7b"/>
<path d="M123,966 L141,961 L138,949.5 L142,948.5 L146.5,960 L152,961 L158,957 L168,956 Q176,960 175,967 Q170,972 163,970 L156,965 L150,968 L136,970.5 L135,974 L131,974 L130,971 L124,972Z" fill="#9696a4" stroke="#6e6e7b" stroke-width="0.8"/>
<ellipse cx="168.5" cy="965.5" rx="3" ry="2.3" fill="#fff" stroke="#6e6e7b" stroke-width="0.8"/>
<g transform="translate(306,894.5) rotate(33)"><rect x="-18" y="-3.6" width="14" height="7.2" rx="2" fill="#8f8f9d"/><rect x="-6" y="-4.6" width="3" height="9.2" fill="#565661"/><rect x="-3" y="-3.6" width="7" height="7.2" fill="#8a8a98"/><rect x="3" y="-5" width="6" height="10" rx="1" fill="#6e6e7b"/><rect x="8" y="-4.2" width="11" height="8.4" rx="2.5" fill="#82828f"/></g>
<g transform="translate(335,894) rotate(34)"><rect x="-18" y="-3.6" width="14" height="7.2" rx="2" fill="#8f8f9d"/><rect x="-6" y="-4.6" width="3" height="9.2" fill="#565661"/><rect x="-3" y="-3.6" width="7" height="7.2" fill="#8a8a98"/><rect x="3" y="-5" width="6" height="10" rx="1" fill="#6e6e7b"/><rect x="8" y="-4.2" width="11" height="8.4" rx="2.5" fill="#82828f"/></g>
<g transform="translate(349.5,922) rotate(-30)"><rect x="-4" y="-5.5" width="8" height="5" rx="1.5" fill="#3c3c46"/><rect x="-2" y="-1" width="4" height="8" fill="#2c2c34"/></g>
<g transform="translate(367,918.5) rotate(-30)"><rect x="-4" y="-5.5" width="8" height="5" rx="1.5" fill="#3c3c46"/><rect x="-2" y="-1" width="4" height="8" fill="#2c2c34"/></g>
<g transform="translate(363,939) rotate(-30)"><rect x="-4" y="-5.5" width="8" height="5" rx="1.5" fill="#3c3c46"/><rect x="-2" y="-1" width="4" height="8" fill="#2c2c34"/></g>
</svg>
<!-- horizontal lines -->
<div class="l h" style="top:8px"></div>
<div class="l h" style="top:37px"></div>
<div class="l h" style="top:276px"></div>
<div class="l h" style="top:282px"></div>
<div class="l h" style="top:545px"></div>
<div class="l h" style="top:553px"></div>
<div class="l h" style="top:830px"></div>
<div class="l h" style="top:837px"></div>
<div class="l h" style="top:1030px"></div>
<div class="l h" style="top:112px;left:695px;width:277px"></div>
<div class="l h" style="top:197px;left:695px;width:277px"></div>
<div class="l h" style="top:360px;left:695px;width:277px"></div>
<div class="l h" style="top:452px;left:695px;width:277px"></div>
<!-- vertical lines -->
<div class="l v" style="left:8px;top:8px;height:1023px"></div>
<div class="l v" style="left:971px;top:8px;height:1023px"></div>
<div class="l v" style="left:410px;top:8px;height:269px"></div>
<div class="l v" style="left:485px;top:8px;height:269px"></div>
<div class="l v" style="left:695px;top:8px;height:269px"></div>
<div class="l v" style="left:820px;top:8px;height:269px"></div>
<div class="l v" style="left:410px;top:282px;height:264px"></div>
<div class="l v" style="left:485px;top:282px;height:264px"></div>
<div class="l v" style="left:695px;top:282px;height:264px"></div>
<div class="l v" style="left:820px;top:282px;height:264px"></div>
<div class="l v" style="left:410px;top:553px;height:478px"></div>
<div class="l v" style="left:485px;top:553px;height:478px"></div>
<div class="l v" style="left:695px;top:553px;height:478px"></div>
<div class="l v" style="left:820px;top:553px;height:278px"></div>
<!-- header text -->
<div class="t th" style="left:9px;width:402px">PICTURE</div>
<div class="t th" style="left:411px;width:75px">Pages</div>
<div class="t th" style="left:486px;width:210px">DESCRIPTION</div>
<div class="t th" style="left:696px;width:125px">P/N</div>
<div class="t th" style="left:821px;width:151px">APPLICATION</div>
<!-- row 1 -->
<div class="t b2" style="left:411px;width:75px;top:146px">All</div>
<div class="t b2" style="left:486px;width:210px;top:123.6px">Comprehensive<br>Drive Kits</div>
<div class="t pn" style="left:696px;width:125px;top:51.2px">20-220<br>20-220BK</div>
<div class="t ap" style="left:821px;width:151px;top:50.5px">LT4<br>Wet Sump</div>
<div class="t pn" style="left:696px;width:125px;top:130.2px">20-221<br>20-221BK</div>
<div class="t ap" style="left:821px;width:151px;top:129.5px">LT4<br>Dry Sump</div>
<div class="t pn" style="left:696px;width:125px;top:212.2px">20-230<br>20-230BK</div>
<div class="t ap" style="left:821px;width:151px;top:211.5px">LT5<br>Dry Sump</div>
<!-- row 2 -->
<div class="t b2" style="left:411px;width:75px;top:391.3px">8&nbsp; &amp;<br>15-19</div>
<div class="t b2" style="left:486px;width:210px;top:331.6px">Add-On Power<br>Steering Kits</div>
<div class="t ds" style="left:486px;width:210px;top:381px;line-height:23.75px">Works with original<br>equipment GM<br>accessories and<br>brackets.</div>
<div class="t pn" style="left:696px;width:125px;top:297.2px">20-222<br>20-222BK</div>
<div class="t ap" style="left:821px;width:151px;top:296.5px">LT4<br>Wet Sump</div>
<div class="t pn" style="left:696px;width:125px;top:381.2px">20-223<br>20-223BK</div>
<div class="t ap" style="left:821px;width:151px;top:380.5px">LT4<br>Dry Sump</div>
<div class="t pn" style="left:696px;width:125px;top:474.2px">20-233<br>20-233BK</div>
<div class="t ap" style="left:821px;width:151px;top:473.5px">LT5<br>Dry Sump</div>
<!-- row 3 -->
<div class="t b2" style="left:411px;width:75px;top:682px">9</div>
<div class="t b2" style="left:486px;width:210px;top:564px">Alternator /<br>Bracket Kits</div>
<div class="t ds" style="left:486px;width:210px;top:612.2px">Offers notably more<br>application<br>clearance at the<br>alternator while<br>working with original<br>equipment GM<br>accessories and<br>brackets and Holley<br>add-on P/S.</div>
<div class="t b2" style="left:696px;width:125px;top:669px;line-height:24px">20-224<br>20-226</div>
<div class="t ap" style="left:821px;width:151px;top:667.5px">LT4<br>Wet Sump</div>
<!-- row 4 -->
<div class="t b2" style="left:411px;width:75px;top:913px">8 &amp;<br>20-24</div>
<div class="t b2" style="left:486px;width:210px;top:924px">Accessories</div>
<div class="t b2" style="left:696px;width:125px;top:865px;line-height:23.5px">97-206<br>97-207<br>97-210<br>97-211<br>97-212</div>
<div class="t b2" style="left:821px;width:151px;top:863px;line-height:23.5px">97-185<br>97-187<br>717-15<br>717-16</div>
</body></html>
